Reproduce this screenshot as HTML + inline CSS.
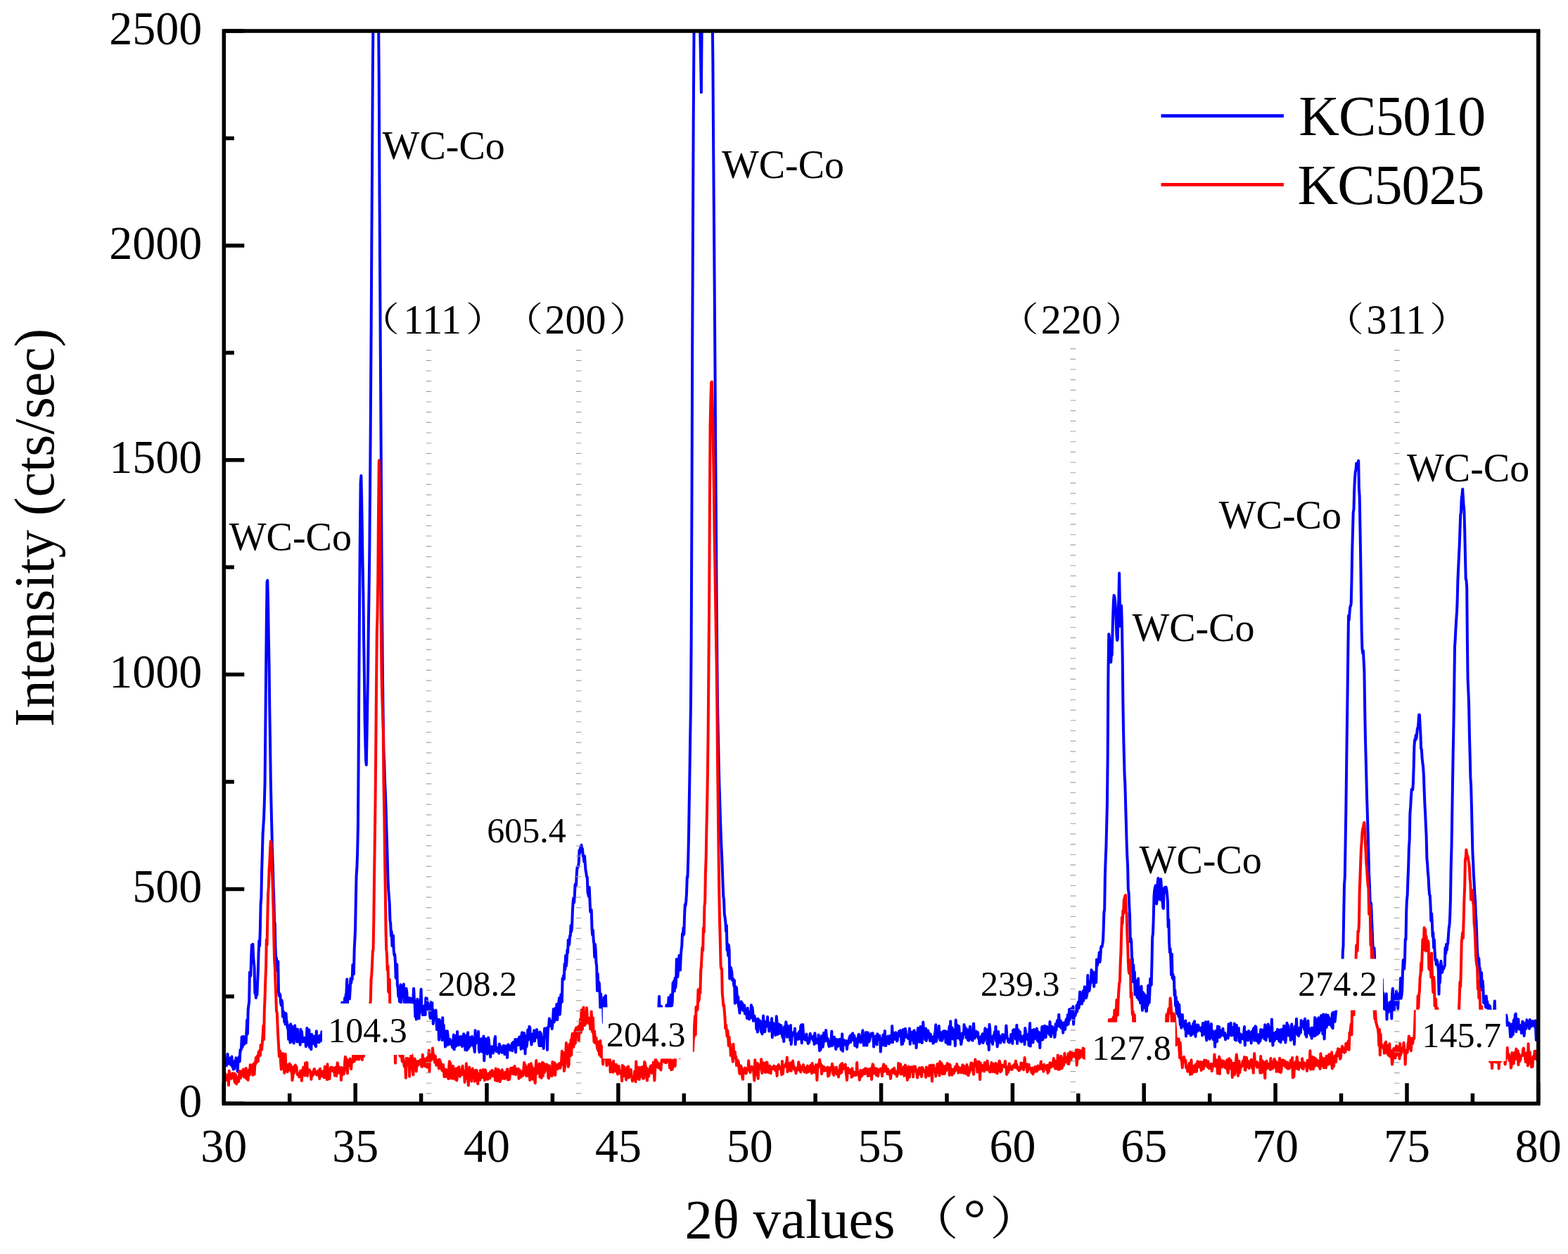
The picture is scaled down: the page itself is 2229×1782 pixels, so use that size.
<!DOCTYPE html>
<html lang="en"><head><meta charset="utf-8"><title>XRD patterns of KC5010 and KC5025</title>
<style>html,body{margin:0;padding:0;background:#fff}body{width:2229px;height:1782px;overflow:hidden}svg{display:block}text{font-family:'Liberation Serif','Noto Serif CJK SC',serif;fill:#000}.tk{font-size:66px}.tx{font-size:79px}.ty{font-size:80px}.wc{font-size:56px}.hk{font-size:58px}.pr{font-size:48.5px}.pt{font-size:65.3px}.nm{font-size:50px}.lg{font-size:80px}</style></head><body>
<svg width="2229" height="1782" viewBox="0 0 2229 1782">
<rect width="2229" height="1782" fill="#fff"/>
<defs><clipPath id="plot"><rect x="318.3" y="44.0" width="1868.5" height="1524.3"/></clipPath></defs>
<g clip-path="url(#plot)" fill="none" stroke-width="4.0" stroke-linejoin="round" stroke-linecap="round">
<polyline stroke="#0000ff" points="318.3,1507.3 319.0,1505.2 319.8,1509.2 320.5,1513.5 321.3,1510.5 322.0,1514.2 322.8,1506.8 323.5,1497.7 324.3,1510.6 325.0,1511.4 325.8,1503.5 326.5,1504.4 327.3,1506.0 328.0,1513.3 328.8,1506.8 329.5,1501.6 330.3,1515.9 331.0,1509.5 331.8,1519.6 332.5,1515.1 333.2,1518.9 334.0,1507.3 334.7,1514.5 335.5,1503.3 336.2,1504.0 337.0,1506.2 337.7,1522.7 338.5,1508.0 339.2,1503.8 340.0,1501.6 340.7,1508.4 341.5,1492.1 342.2,1493.0 343.0,1490.1 343.7,1473.5 344.5,1488.3 345.2,1481.2 346.0,1472.8 346.7,1484.4 347.4,1479.3 348.2,1475.9 348.9,1474.0 349.7,1482.2 350.4,1466.6 351.2,1449.6 351.9,1469.3 352.7,1434.7 353.4,1428.9 354.2,1423.5 354.9,1381.7 355.7,1381.5 356.4,1386.8 357.2,1358.5 357.9,1342.7 358.7,1345.7 359.4,1341.8 360.2,1360.3 360.9,1367.6 361.6,1374.7 362.4,1411.5 363.1,1410.0 363.9,1418.0 364.6,1407.3 365.4,1414.0 366.1,1396.6 366.9,1379.5 367.6,1353.9 368.4,1336.8 369.1,1344.3 369.9,1320.2 370.6,1284.5 371.4,1275.6 372.1,1238.4 372.9,1212.1 373.6,1185.6 374.4,1172.9 375.1,1162.1 375.8,1141.7 376.6,1112.4 377.3,1037.7 378.1,956.0 378.8,884.7 379.6,826.9 380.3,824.7 381.1,857.0 381.8,903.7 382.6,945.9 383.3,1007.5 384.1,1057.6 384.8,1107.4 385.6,1146.7 386.3,1175.2 387.1,1210.0 387.8,1228.7 388.6,1258.4 389.3,1275.6 390.1,1309.2 390.8,1313.4 391.5,1347.1 392.3,1365.1 393.0,1361.0 393.8,1378.8 394.5,1378.7 395.3,1366.2 396.0,1409.3 396.8,1415.0 397.5,1412.3 398.3,1413.8 399.0,1424.9 399.8,1428.5 400.5,1421.6 401.3,1426.2 402.0,1444.8 402.8,1437.4 403.5,1438.9 404.3,1452.5 405.0,1441.9 405.7,1455.6 406.5,1440.0 407.2,1449.8 408.0,1452.8 408.7,1461.0 409.5,1457.9 410.2,1477.0 411.0,1470.0 411.7,1457.3 412.5,1481.6 413.2,1455.2 414.0,1480.1 414.7,1458.3 415.5,1473.8 416.2,1460.0 417.0,1466.8 417.7,1482.5 418.5,1458.3 419.2,1457.3 419.9,1471.3 420.7,1473.6 421.4,1473.0 422.2,1480.6 422.9,1462.6 423.7,1477.3 424.4,1473.2 425.2,1480.0 425.9,1478.8 426.7,1484.7 427.4,1462.7 428.2,1475.3 428.9,1465.7 429.7,1474.2 430.4,1480.5 431.2,1477.4 431.9,1479.6 432.7,1474.8 433.4,1478.3 434.1,1477.7 434.9,1487.2 435.6,1482.3 436.4,1461.1 437.1,1481.3 437.9,1484.7 438.6,1472.8 439.4,1463.6 440.1,1488.4 440.9,1477.7 441.6,1481.5 442.4,1491.3 443.1,1469.8 443.9,1476.5 444.6,1475.7 445.4,1482.9 446.1,1472.5 446.9,1481.2 447.6,1477.8 448.3,1486.1 449.1,1487.1 449.8,1465.2 450.6,1481.1 451.3,1474.3 452.1,1477.1 452.8,1480.6 453.6,1481.2 454.3,1471.4 455.1,1479.4 455.8,1478.1 456.6,1476.4 457.3,1466.3 458.1,1470.3 458.8,1472.6 459.6,1480.4 460.3,1487.1 461.1,1466.4 461.8,1465.7 462.5,1474.8 463.3,1468.2 464.0,1465.4 464.8,1464.3 465.5,1462.8 466.3,1474.3 467.0,1456.0 467.8,1479.9 468.5,1460.2 469.3,1462.7 470.0,1458.4 470.8,1448.4 471.5,1451.1 472.3,1474.2 473.0,1478.2 473.8,1453.8 474.5,1469.4 475.3,1458.5 476.0,1448.8 476.7,1470.7 477.5,1473.5 478.2,1448.7 479.0,1448.8 479.7,1449.6 480.5,1444.8 481.2,1451.7 482.0,1456.3 482.7,1440.5 483.5,1446.7 484.2,1451.7 485.0,1427.3 485.7,1431.2 486.5,1424.4 487.2,1437.4 488.0,1432.2 488.7,1434.2 489.5,1431.5 490.2,1418.1 490.9,1427.3 491.7,1413.3 492.4,1411.8 493.2,1391.6 493.9,1427.4 494.7,1400.5 495.4,1409.2 496.2,1406.2 496.9,1419.6 497.7,1406.3 498.4,1390.6 499.2,1396.8 499.9,1391.7 500.7,1391.7 501.4,1370.9 502.2,1376.5 502.9,1384.2 503.7,1348.3 504.4,1335.3 505.1,1319.5 505.9,1276.0 506.6,1244.8 507.4,1232.3 508.1,1213.0 508.9,1175.9 509.6,1086.3 510.4,955.7 511.1,851.3 511.9,753.8 512.6,685.7 513.4,676.1 514.1,708.7 514.9,754.1 515.6,801.9 516.4,843.7 517.1,907.7 517.9,956.2 518.6,1022.2 519.4,1057.4 520.1,1080.4 520.8,1087.1 521.6,1043.7 522.3,1000.0 523.1,955.8 523.8,893.4 524.6,837.0 525.3,784.4 526.1,688.8 526.8,598.7 527.6,477.4 528.3,354.8 529.1,229.3 529.8,107.1 530.6,14.0 531.3,14.0 532.1,14.0 532.8,14.0 533.6,14.0 534.3,14.0 535.0,14.0 535.8,14.0 536.5,14.0 537.3,14.0 538.0,14.0 538.8,116.7 539.5,275.0 540.3,413.9 541.0,531.0 541.8,658.3 542.5,785.8 543.3,894.6 544.0,966.7 544.8,1025.8 545.5,1068.4 546.3,1084.1 547.0,1109.0 547.8,1126.6 548.5,1145.0 549.2,1171.4 550.0,1195.2 550.7,1220.0 551.5,1249.9 552.2,1263.4 553.0,1274.9 553.7,1283.1 554.5,1308.4 555.2,1311.7 556.0,1330.0 556.7,1323.7 557.5,1344.2 558.2,1335.5 559.0,1329.6 559.7,1350.4 560.5,1357.5 561.2,1356.0 562.0,1368.1 562.7,1389.7 563.4,1382.2 564.2,1370.4 564.9,1400.1 565.7,1403.6 566.4,1416.2 567.2,1404.0 567.9,1423.2 568.7,1423.6 569.4,1399.2 570.2,1424.8 570.9,1404.4 571.7,1400.8 572.4,1415.8 573.2,1413.3 573.9,1398.6 574.7,1422.4 575.4,1427.0 576.2,1435.4 576.9,1420.4 577.6,1404.8 578.4,1410.6 579.1,1431.4 579.9,1430.6 580.6,1426.8 581.4,1418.3 582.1,1423.8 582.9,1419.4 583.6,1418.7 584.4,1425.5 585.1,1423.1 585.9,1420.9 586.6,1424.5 587.4,1418.8 588.1,1404.7 588.9,1419.2 589.6,1425.6 590.4,1444.8 591.1,1423.2 591.8,1448.6 592.6,1443.4 593.3,1419.7 594.1,1421.6 594.8,1430.9 595.6,1447.5 596.3,1433.4 597.1,1436.7 597.8,1422.9 598.6,1405.8 599.3,1427.4 600.1,1438.0 600.8,1442.2 601.6,1430.4 602.3,1431.7 603.1,1442.1 603.8,1428.7 604.6,1442.1 605.3,1418.3 606.0,1418.8 606.8,1418.7 607.5,1435.2 608.3,1424.9 609.0,1431.8 609.8,1434.6 610.5,1434.3 611.3,1444.9 612.0,1447.0 612.8,1424.3 613.5,1435.6 614.3,1432.4 615.0,1425.5 615.8,1454.9 616.5,1446.4 617.3,1437.9 618.0,1437.3 618.8,1447.2 619.5,1435.6 620.2,1446.5 621.0,1463.0 621.7,1462.8 622.5,1448.7 623.2,1454.0 624.0,1477.7 624.7,1448.9 625.5,1457.3 626.2,1451.9 627.0,1469.0 627.7,1469.4 628.5,1478.0 629.2,1446.3 630.0,1471.6 630.7,1456.8 631.5,1477.4 632.2,1470.9 633.0,1487.6 633.7,1476.7 634.5,1465.2 635.2,1485.1 635.9,1465.3 636.7,1472.1 637.4,1484.4 638.2,1480.1 638.9,1480.1 639.7,1476.9 640.4,1481.3 641.2,1484.1 641.9,1479.9 642.7,1486.3 643.4,1488.8 644.2,1478.4 644.9,1470.6 645.7,1491.3 646.4,1478.4 647.2,1484.1 647.9,1486.9 648.7,1471.4 649.4,1483.1 650.1,1465.9 650.9,1485.3 651.6,1475.3 652.4,1480.4 653.1,1484.8 653.9,1473.3 654.6,1479.5 655.4,1472.9 656.1,1478.4 656.9,1487.1 657.6,1478.6 658.4,1477.1 659.1,1469.2 659.9,1485.1 660.6,1477.5 661.4,1491.9 662.1,1471.4 662.9,1486.2 663.6,1492.4 664.3,1477.4 665.1,1467.3 665.8,1490.0 666.6,1486.3 667.3,1483.4 668.1,1486.9 668.8,1474.1 669.6,1484.5 670.3,1484.0 671.1,1473.1 671.8,1484.8 672.6,1475.0 673.3,1487.2 674.1,1489.5 674.8,1495.1 675.6,1464.2 676.3,1482.9 677.1,1478.5 677.8,1481.1 678.5,1479.9 679.3,1481.1 680.0,1465.8 680.8,1490.7 681.5,1495.2 682.3,1490.8 683.0,1493.7 683.8,1476.6 684.5,1476.2 685.3,1491.2 686.0,1495.0 686.8,1486.6 687.5,1472.4 688.3,1507.3 689.0,1480.0 689.8,1493.4 690.5,1476.2 691.3,1493.8 692.0,1487.5 692.7,1497.7 693.5,1493.6 694.2,1474.5 695.0,1479.3 695.7,1489.5 696.5,1493.5 697.2,1502.0 698.0,1490.0 698.7,1487.2 699.5,1487.8 700.2,1488.0 701.0,1496.5 701.7,1488.1 702.5,1488.0 703.2,1477.4 704.0,1472.9 704.7,1489.1 705.5,1494.3 706.2,1488.7 706.9,1493.2 707.7,1494.3 708.4,1488.9 709.2,1496.8 709.9,1483.6 710.7,1489.3 711.4,1486.4 712.2,1489.8 712.9,1494.1 713.7,1495.8 714.4,1489.9 715.2,1492.3 715.9,1485.8 716.7,1487.5 717.4,1498.3 718.2,1486.5 718.9,1497.7 719.7,1491.6 720.4,1488.7 721.1,1502.9 721.9,1485.0 722.6,1484.3 723.4,1486.5 724.1,1488.4 724.9,1487.7 725.6,1492.4 726.4,1486.3 727.1,1488.3 727.9,1482.7 728.6,1493.2 729.4,1481.0 730.1,1481.5 730.9,1483.6 731.6,1485.7 732.4,1477.1 733.1,1495.4 733.9,1477.2 734.6,1478.7 735.3,1478.0 736.1,1476.8 736.8,1485.2 737.6,1481.5 738.3,1473.5 739.1,1474.9 739.8,1476.4 740.6,1490.8 741.3,1472.9 742.1,1467.2 742.8,1468.2 743.6,1474.5 744.3,1489.7 745.1,1467.9 745.8,1477.0 746.6,1497.4 747.3,1472.0 748.1,1488.0 748.8,1486.1 749.5,1480.2 750.3,1463.5 751.0,1477.6 751.8,1471.9 752.5,1458.8 753.3,1460.0 754.0,1474.7 754.8,1475.8 755.5,1484.6 756.3,1479.5 757.0,1469.6 757.8,1469.8 758.5,1472.1 759.3,1464.3 760.0,1479.6 760.8,1473.3 761.5,1466.2 762.3,1467.4 763.0,1463.0 763.8,1468.8 764.5,1474.8 765.2,1468.8 766.0,1480.7 766.7,1486.1 767.5,1466.4 768.2,1471.8 769.0,1468.4 769.7,1486.0 770.5,1473.9 771.2,1475.8 772.0,1477.9 772.7,1490.0 773.5,1472.7 774.2,1461.4 775.0,1465.7 775.7,1474.1 776.5,1468.4 777.2,1460.8 778.0,1491.9 778.7,1467.2 779.4,1460.2 780.2,1457.9 780.9,1447.3 781.7,1451.3 782.4,1457.7 783.2,1456.5 783.9,1450.7 784.7,1461.9 785.4,1455.8 786.2,1445.4 786.9,1433.7 787.7,1452.6 788.4,1449.9 789.2,1445.7 789.9,1432.4 790.7,1444.1 791.4,1426.9 792.2,1449.3 792.9,1439.0 793.6,1436.6 794.4,1423.7 795.1,1417.9 795.9,1441.7 796.6,1431.4 797.4,1413.2 798.1,1419.3 798.9,1423.7 799.6,1390.4 800.4,1391.1 801.1,1386.1 801.9,1391.5 802.6,1369.7 803.4,1377.6 804.1,1357.9 804.9,1372.7 805.6,1366.2 806.4,1350.2 807.1,1353.7 807.8,1335.7 808.6,1335.4 809.3,1342.4 810.1,1329.7 810.8,1329.9 811.6,1314.9 812.3,1323.8 813.1,1316.8 813.8,1296.8 814.6,1281.7 815.3,1276.2 816.1,1282.7 816.8,1273.4 817.6,1256.8 818.3,1259.9 819.1,1256.7 819.8,1241.7 820.6,1232.0 821.3,1232.4 822.0,1231.4 822.8,1224.9 823.5,1208.3 824.3,1211.9 825.0,1205.6 825.8,1202.5 826.5,1200.9 827.3,1207.9 828.0,1205.8 828.8,1216.6 829.5,1217.3 830.3,1224.6 831.0,1216.5 831.8,1227.3 832.5,1236.5 833.3,1240.2 834.0,1245.8 834.8,1246.6 835.5,1267.5 836.2,1270.9 837.0,1273.9 837.7,1260.8 838.5,1279.6 839.2,1295.4 840.0,1296.6 840.7,1292.9 841.5,1319.6 842.2,1328.6 843.0,1322.1 843.7,1336.1 844.5,1341.6 845.2,1359.9 846.0,1342.0 846.7,1350.2 847.5,1368.1 848.2,1372.6 849.0,1407.9 849.7,1383.9 850.4,1397.8 851.2,1395.6 851.9,1397.4 852.7,1412.9 853.4,1431.6 854.2,1412.5 854.9,1427.6 855.7,1425.7 856.4,1431.0 857.2,1430.3 857.9,1453.1 858.7,1417.6 859.4,1429.5 860.2,1422.2 860.9,1414.8 861.7,1436.7 862.4,1456.9 863.2,1449.0 863.9,1453.6 864.6,1447.8 865.4,1443.3 866.1,1465.3 866.9,1443.2 867.6,1462.7 868.4,1445.9 869.1,1450.9 869.9,1453.9 870.6,1452.4 871.4,1457.7 872.1,1459.1 872.9,1470.1 873.6,1454.9 874.4,1437.7 875.1,1437.2 875.9,1444.2 876.6,1450.8 877.4,1464.5 878.1,1445.2 878.8,1459.9 879.6,1460.6 880.3,1463.3 881.1,1460.2 881.8,1465.7 882.6,1462.9 883.3,1472.6 884.1,1466.4 884.8,1442.4 885.6,1464.3 886.3,1466.2 887.1,1459.3 887.8,1457.9 888.6,1474.7 889.3,1466.5 890.1,1456.3 890.8,1462.2 891.6,1463.5 892.3,1450.4 893.1,1470.7 893.8,1463.7 894.5,1469.1 895.3,1450.6 896.0,1482.1 896.8,1470.2 897.5,1468.8 898.3,1457.7 899.0,1458.1 899.8,1450.6 900.5,1477.8 901.3,1456.2 902.0,1465.6 902.8,1468.9 903.5,1457.6 904.3,1470.8 905.0,1481.3 905.8,1465.3 906.5,1475.6 907.3,1467.5 908.0,1457.8 908.7,1458.1 909.5,1446.0 910.2,1462.4 911.0,1474.6 911.7,1467.1 912.5,1468.4 913.2,1470.9 914.0,1455.2 914.7,1465.0 915.5,1477.2 916.2,1451.7 917.0,1459.0 917.7,1454.2 918.5,1456.1 919.2,1450.8 920.0,1455.9 920.7,1444.2 921.5,1451.4 922.2,1451.2 922.9,1450.5 923.7,1467.7 924.4,1455.0 925.2,1455.3 925.9,1450.4 926.7,1464.7 927.4,1435.6 928.2,1449.6 928.9,1461.6 929.7,1465.7 930.4,1451.3 931.2,1448.7 931.9,1454.0 932.7,1445.4 933.4,1451.6 934.2,1439.2 934.9,1450.8 935.7,1443.2 936.4,1432.4 937.1,1415.9 937.9,1450.1 938.6,1444.0 939.4,1446.9 940.1,1430.1 940.9,1448.4 941.6,1441.0 942.4,1435.8 943.1,1444.4 943.9,1443.4 944.6,1437.9 945.4,1453.3 946.1,1445.9 946.9,1434.7 947.6,1428.2 948.4,1430.6 949.1,1445.6 949.9,1431.3 950.6,1417.4 951.3,1418.7 952.1,1423.8 952.8,1430.8 953.6,1413.8 954.3,1424.7 955.1,1429.0 955.8,1423.0 956.6,1396.8 957.3,1407.0 958.1,1394.0 958.8,1408.5 959.6,1390.0 960.3,1403.5 961.1,1395.4 961.8,1363.0 962.6,1378.2 963.3,1388.3 964.1,1379.8 964.8,1371.2 965.5,1357.7 966.3,1370.8 967.0,1378.6 967.8,1358.8 968.5,1350.6 969.3,1344.0 970.0,1326.8 970.8,1329.7 971.5,1318.5 972.3,1327.6 973.0,1303.2 973.8,1285.3 974.5,1286.9 975.3,1280.6 976.0,1269.7 976.8,1246.0 977.5,1246.3 978.3,1220.2 979.0,1189.6 979.7,1144.1 980.5,1096.9 981.2,1048.3 982.0,1001.3 982.7,905.6 983.5,713.6 984.2,498.7 985.0,322.0 985.7,173.3 986.5,49.3 987.2,14.0 988.0,14.0 988.7,14.0 989.5,14.0 990.2,14.0 991.0,14.0 991.7,14.0 992.5,14.0 993.2,14.0 993.9,14.0 994.7,14.0 995.4,53.2 996.2,89.9 996.9,131.3 997.7,38.2 998.4,14.0 999.2,14.0 999.9,14.0 1000.7,14.0 1001.4,14.0 1002.2,14.0 1002.9,14.0 1003.7,14.0 1004.4,14.0 1005.2,14.0 1005.9,14.0 1006.7,14.0 1007.4,14.0 1008.2,14.0 1008.9,14.0 1009.6,14.0 1010.4,14.0 1011.1,14.0 1011.9,14.0 1012.6,14.0 1013.4,87.2 1014.1,198.4 1014.9,304.1 1015.6,395.4 1016.4,507.8 1017.1,622.3 1017.9,737.3 1018.6,846.3 1019.4,936.5 1020.1,1003.7 1020.9,1043.6 1021.6,1076.6 1022.4,1113.0 1023.1,1132.9 1023.8,1157.6 1024.6,1180.9 1025.3,1199.9 1026.1,1215.4 1026.8,1234.2 1027.6,1256.5 1028.3,1273.6 1029.1,1278.5 1029.8,1298.8 1030.6,1303.8 1031.3,1310.0 1032.1,1323.3 1032.8,1315.0 1033.6,1350.4 1034.3,1341.2 1035.1,1358.0 1035.8,1342.9 1036.6,1349.9 1037.3,1390.8 1038.0,1386.2 1038.8,1374.8 1039.5,1377.7 1040.3,1381.8 1041.0,1392.8 1041.8,1390.7 1042.5,1391.6 1043.3,1401.1 1044.0,1393.3 1044.8,1425.8 1045.5,1401.7 1046.3,1419.1 1047.0,1403.6 1047.8,1416.7 1048.5,1424.9 1049.3,1416.4 1050.0,1429.9 1050.8,1432.2 1051.5,1439.8 1052.2,1428.8 1053.0,1426.2 1053.7,1423.4 1054.5,1434.1 1055.2,1425.4 1056.0,1434.6 1056.7,1436.3 1057.5,1431.7 1058.2,1428.6 1059.0,1440.5 1059.7,1440.3 1060.5,1440.2 1061.2,1438.9 1062.0,1447.1 1062.7,1432.5 1063.5,1444.2 1064.2,1437.9 1065.0,1448.4 1065.7,1439.7 1066.4,1439.9 1067.2,1446.6 1067.9,1428.3 1068.7,1441.4 1069.4,1431.2 1070.2,1437.9 1070.9,1450.8 1071.7,1449.2 1072.4,1443.5 1073.2,1446.9 1073.9,1447.5 1074.7,1450.6 1075.4,1462.6 1076.2,1451.2 1076.9,1466.6 1077.7,1447.8 1078.4,1456.5 1079.2,1456.9 1079.9,1453.7 1080.6,1450.6 1081.4,1463.7 1082.1,1466.4 1082.9,1461.8 1083.6,1469.4 1084.4,1461.9 1085.1,1443.6 1085.9,1463.3 1086.6,1451.2 1087.4,1466.2 1088.1,1454.4 1088.9,1459.2 1089.6,1457.6 1090.4,1453.3 1091.1,1445.1 1091.9,1456.6 1092.6,1457.4 1093.4,1465.5 1094.1,1454.6 1094.8,1460.8 1095.6,1453.3 1096.3,1459.8 1097.1,1447.3 1097.8,1474.2 1098.6,1462.3 1099.3,1454.1 1100.1,1463.1 1100.8,1466.5 1101.6,1462.9 1102.3,1471.1 1103.1,1460.6 1103.8,1444.3 1104.6,1453.7 1105.3,1469.9 1106.1,1468.4 1106.8,1465.3 1107.6,1455.5 1108.3,1468.6 1109.0,1467.9 1109.8,1457.0 1110.5,1457.3 1111.3,1466.2 1112.0,1471.6 1112.8,1474.9 1113.5,1469.1 1114.3,1480.0 1115.0,1459.3 1115.8,1469.2 1116.5,1461.6 1117.3,1452.2 1118.0,1457.2 1118.8,1473.7 1119.5,1459.8 1120.3,1458.1 1121.0,1471.5 1121.8,1473.2 1122.5,1467.6 1123.2,1478.1 1124.0,1457.1 1124.7,1484.1 1125.5,1475.4 1126.2,1469.9 1127.0,1469.8 1127.7,1467.4 1128.5,1466.9 1129.2,1470.5 1130.0,1461.5 1130.7,1484.1 1131.5,1469.8 1132.2,1474.9 1133.0,1469.4 1133.7,1469.0 1134.5,1477.0 1135.2,1475.4 1136.0,1465.9 1136.7,1469.2 1137.5,1476.4 1138.2,1458.3 1138.9,1456.7 1139.7,1482.3 1140.4,1470.7 1141.2,1456.1 1141.9,1467.9 1142.7,1471.9 1143.4,1475.0 1144.2,1477.4 1144.9,1475.4 1145.7,1477.9 1146.4,1469.5 1147.2,1477.3 1147.9,1477.7 1148.7,1483.0 1149.4,1475.5 1150.2,1481.2 1150.9,1476.7 1151.7,1468.7 1152.4,1473.4 1153.1,1472.6 1153.9,1473.7 1154.6,1475.8 1155.4,1477.2 1156.1,1478.6 1156.9,1471.7 1157.6,1484.0 1158.4,1468.2 1159.1,1476.9 1159.9,1482.2 1160.6,1480.7 1161.4,1482.0 1162.1,1476.7 1162.9,1482.6 1163.6,1470.6 1164.4,1483.3 1165.1,1493.2 1165.9,1483.2 1166.6,1491.7 1167.3,1479.0 1168.1,1472.0 1168.8,1474.8 1169.6,1487.8 1170.3,1484.2 1171.1,1467.8 1171.8,1477.4 1172.6,1479.6 1173.3,1472.9 1174.1,1463.9 1174.8,1471.5 1175.6,1479.1 1176.3,1477.8 1177.1,1476.1 1177.8,1484.1 1178.6,1487.1 1179.3,1480.0 1180.1,1486.5 1180.8,1480.8 1181.5,1479.8 1182.3,1465.4 1183.0,1486.0 1183.8,1481.3 1184.5,1481.6 1185.3,1477.7 1186.0,1473.7 1186.8,1483.6 1187.5,1485.7 1188.3,1491.0 1189.0,1486.3 1189.8,1476.9 1190.5,1480.0 1191.3,1486.8 1192.0,1482.6 1192.8,1479.9 1193.5,1476.8 1194.3,1483.8 1195.0,1481.5 1195.7,1491.6 1196.5,1487.2 1197.2,1469.2 1198.0,1493.7 1198.7,1481.7 1199.5,1477.9 1200.2,1481.7 1201.0,1484.4 1201.7,1479.5 1202.5,1479.0 1203.2,1479.4 1204.0,1490.9 1204.7,1479.6 1205.5,1484.1 1206.2,1482.0 1207.0,1476.8 1207.7,1474.0 1208.5,1472.2 1209.2,1481.2 1209.9,1471.8 1210.7,1470.0 1211.4,1470.2 1212.2,1468.4 1212.9,1478.3 1213.7,1478.4 1214.4,1471.8 1215.2,1486.0 1215.9,1475.6 1216.7,1480.3 1217.4,1479.2 1218.2,1488.1 1218.9,1482.4 1219.7,1476.6 1220.4,1470.5 1221.2,1469.8 1221.9,1476.8 1222.7,1477.4 1223.4,1481.6 1224.1,1473.3 1224.9,1477.6 1225.6,1471.9 1226.4,1464.3 1227.1,1476.0 1227.9,1485.6 1228.6,1481.4 1229.4,1485.3 1230.1,1483.6 1230.9,1467.0 1231.6,1474.1 1232.4,1485.7 1233.1,1471.3 1233.9,1467.4 1234.6,1478.2 1235.4,1480.4 1236.1,1478.3 1236.9,1474.3 1237.6,1472.1 1238.3,1468.8 1239.1,1468.8 1239.8,1469.2 1240.6,1468.2 1241.3,1473.0 1242.1,1487.6 1242.8,1478.6 1243.6,1475.9 1244.3,1480.6 1245.1,1472.3 1245.8,1480.8 1246.6,1484.5 1247.3,1469.2 1248.1,1474.3 1248.8,1477.2 1249.6,1472.6 1250.3,1471.7 1251.1,1476.4 1251.8,1494.6 1252.5,1483.0 1253.3,1481.5 1254.0,1484.9 1254.8,1477.1 1255.5,1470.6 1256.3,1481.5 1257.0,1485.6 1257.8,1464.9 1258.5,1481.0 1259.3,1486.0 1260.0,1476.4 1260.8,1475.0 1261.5,1482.3 1262.3,1472.4 1263.0,1480.7 1263.8,1483.4 1264.5,1476.1 1265.3,1472.1 1266.0,1481.2 1266.8,1474.7 1267.5,1477.4 1268.2,1458.1 1269.0,1481.2 1269.7,1467.3 1270.5,1476.6 1271.2,1476.9 1272.0,1471.2 1272.7,1469.9 1273.5,1467.3 1274.2,1473.4 1275.0,1479.4 1275.7,1478.8 1276.5,1471.7 1277.2,1471.1 1278.0,1465.5 1278.7,1471.9 1279.5,1467.5 1280.2,1464.3 1281.0,1473.2 1281.7,1484.0 1282.4,1481.9 1283.2,1483.5 1283.9,1463.1 1284.7,1479.3 1285.4,1465.2 1286.2,1469.4 1286.9,1461.7 1287.7,1466.4 1288.4,1473.7 1289.2,1474.2 1289.9,1472.2 1290.7,1471.5 1291.4,1476.1 1292.2,1472.7 1292.9,1461.6 1293.7,1483.8 1294.4,1470.5 1295.2,1478.3 1295.9,1470.8 1296.6,1466.4 1297.4,1472.4 1298.1,1466.7 1298.9,1482.6 1299.6,1464.3 1300.4,1475.8 1301.1,1467.5 1301.9,1470.4 1302.6,1489.1 1303.4,1476.6 1304.1,1470.0 1304.9,1460.9 1305.6,1469.4 1306.4,1469.6 1307.1,1480.8 1307.9,1461.5 1308.6,1458.9 1309.4,1470.9 1310.1,1472.6 1310.8,1482.0 1311.6,1465.0 1312.3,1452.6 1313.1,1466.0 1313.8,1462.2 1314.6,1467.1 1315.3,1477.4 1316.1,1461.6 1316.8,1479.0 1317.6,1472.0 1318.3,1468.6 1319.1,1464.5 1319.8,1467.6 1320.6,1467.8 1321.3,1475.5 1322.1,1479.1 1322.8,1469.8 1323.6,1475.0 1324.3,1479.1 1325.0,1478.7 1325.8,1473.4 1326.5,1482.7 1327.3,1479.2 1328.0,1481.1 1328.8,1468.7 1329.5,1467.1 1330.3,1456.2 1331.0,1480.0 1331.8,1474.4 1332.5,1463.5 1333.3,1471.2 1334.0,1471.9 1334.8,1457.9 1335.5,1471.9 1336.3,1477.4 1337.0,1478.5 1337.8,1467.2 1338.5,1467.4 1339.2,1478.8 1340.0,1476.1 1340.7,1465.7 1341.5,1465.4 1342.2,1473.7 1343.0,1465.0 1343.7,1465.3 1344.5,1481.4 1345.2,1471.3 1346.0,1466.3 1346.7,1473.1 1347.5,1483.8 1348.2,1471.1 1349.0,1463.9 1349.7,1458.3 1350.5,1484.1 1351.2,1451.2 1352.0,1476.7 1352.7,1462.5 1353.4,1460.5 1354.2,1462.3 1354.9,1467.9 1355.7,1476.9 1356.4,1464.7 1357.2,1473.8 1357.9,1486.2 1358.7,1449.6 1359.4,1464.1 1360.2,1456.5 1360.9,1475.2 1361.7,1458.9 1362.4,1458.0 1363.2,1458.3 1363.9,1469.1 1364.7,1477.2 1365.4,1470.2 1366.2,1484.1 1366.9,1480.7 1367.6,1468.4 1368.4,1475.8 1369.1,1470.2 1369.9,1469.9 1370.6,1456.0 1371.4,1460.4 1372.1,1469.6 1372.9,1461.1 1373.6,1474.7 1374.4,1471.8 1375.1,1463.3 1375.9,1478.1 1376.6,1471.6 1377.4,1478.7 1378.1,1469.0 1378.9,1458.8 1379.6,1475.1 1380.4,1468.5 1381.1,1476.2 1381.9,1478.0 1382.6,1478.7 1383.3,1460.5 1384.1,1454.4 1384.8,1467.3 1385.6,1475.5 1386.3,1466.0 1387.1,1473.1 1387.8,1465.5 1388.6,1469.1 1389.3,1469.3 1390.1,1467.2 1390.8,1475.3 1391.6,1474.2 1392.3,1483.2 1393.1,1474.7 1393.8,1481.4 1394.6,1472.9 1395.3,1478.5 1396.1,1471.4 1396.8,1469.2 1397.5,1481.9 1398.3,1477.9 1399.0,1478.9 1399.8,1467.6 1400.5,1461.3 1401.3,1467.1 1402.0,1475.3 1402.8,1463.2 1403.5,1483.3 1404.3,1463.2 1405.0,1477.7 1405.8,1492.0 1406.5,1455.8 1407.3,1463.1 1408.0,1480.6 1408.8,1472.7 1409.5,1475.3 1410.3,1473.3 1411.0,1483.9 1411.7,1478.7 1412.5,1471.1 1413.2,1472.8 1414.0,1466.3 1414.7,1473.9 1415.5,1458.8 1416.2,1479.3 1417.0,1472.9 1417.7,1487.4 1418.5,1483.0 1419.2,1465.9 1420.0,1481.1 1420.7,1471.3 1421.5,1475.3 1422.2,1481.8 1423.0,1477.2 1423.7,1478.4 1424.5,1478.2 1425.2,1470.0 1425.9,1470.7 1426.7,1478.8 1427.4,1481.0 1428.2,1473.1 1428.9,1475.7 1429.7,1468.2 1430.4,1457.4 1431.2,1469.4 1431.9,1475.2 1432.7,1476.1 1433.4,1480.7 1434.2,1481.0 1434.9,1481.6 1435.7,1477.6 1436.4,1477.8 1437.2,1470.0 1437.9,1477.6 1438.7,1476.2 1439.4,1483.0 1440.1,1464.0 1440.9,1471.5 1441.6,1463.0 1442.4,1469.6 1443.1,1465.0 1443.9,1476.5 1444.6,1470.1 1445.4,1456.8 1446.1,1482.9 1446.9,1467.0 1447.6,1463.5 1448.4,1471.9 1449.1,1469.6 1449.9,1466.2 1450.6,1479.1 1451.4,1471.9 1452.1,1480.5 1452.9,1479.2 1453.6,1478.8 1454.3,1475.5 1455.1,1473.6 1455.8,1471.4 1456.6,1484.2 1457.3,1461.0 1458.1,1466.6 1458.8,1469.5 1459.6,1476.8 1460.3,1475.0 1461.1,1470.6 1461.8,1471.5 1462.6,1485.7 1463.3,1469.1 1464.1,1454.1 1464.8,1486.6 1465.6,1467.0 1466.3,1471.2 1467.1,1474.4 1467.8,1464.1 1468.5,1481.5 1469.3,1472.1 1470.0,1463.0 1470.8,1474.2 1471.5,1475.6 1472.3,1471.7 1473.0,1475.4 1473.8,1461.5 1474.5,1478.2 1475.3,1465.7 1476.0,1480.2 1476.8,1466.7 1477.5,1471.8 1478.3,1488.9 1479.0,1470.7 1479.8,1477.9 1480.5,1473.3 1481.3,1459.1 1482.0,1477.5 1482.7,1476.8 1483.5,1459.0 1484.2,1468.0 1485.0,1457.7 1485.7,1466.0 1486.5,1474.3 1487.2,1468.2 1488.0,1458.7 1488.7,1460.5 1489.5,1466.9 1490.2,1466.3 1491.0,1467.1 1491.7,1470.1 1492.5,1451.9 1493.2,1465.3 1494.0,1473.2 1494.7,1468.1 1495.5,1459.0 1496.2,1459.2 1496.9,1464.4 1497.7,1467.8 1498.4,1462.3 1499.2,1474.1 1499.9,1470.9 1500.7,1455.1 1501.4,1463.9 1502.2,1457.1 1502.9,1450.3 1503.7,1453.9 1504.4,1458.0 1505.2,1441.7 1505.9,1452.0 1506.7,1459.0 1507.4,1450.3 1508.2,1452.1 1508.9,1461.0 1509.7,1453.5 1510.4,1454.7 1511.2,1467.7 1511.9,1453.5 1512.6,1453.7 1513.4,1454.3 1514.1,1462.9 1514.9,1452.3 1515.6,1449.2 1516.4,1447.5 1517.1,1456.4 1517.9,1441.9 1518.6,1455.6 1519.4,1447.1 1520.1,1434.3 1520.9,1449.3 1521.6,1447.1 1522.4,1433.6 1523.1,1444.5 1523.9,1442.9 1524.6,1437.9 1525.4,1430.2 1526.1,1455.7 1526.8,1443.5 1527.6,1444.0 1528.3,1443.6 1529.1,1440.6 1529.8,1439.3 1530.6,1428.6 1531.3,1437.4 1532.1,1427.7 1532.8,1424.0 1533.6,1432.4 1534.3,1423.8 1535.1,1409.5 1535.8,1419.5 1536.6,1426.6 1537.3,1420.3 1538.1,1426.5 1538.8,1414.8 1539.6,1408.3 1540.3,1422.0 1541.0,1415.3 1541.8,1402.2 1542.5,1415.6 1543.3,1408.3 1544.0,1418.2 1544.8,1415.4 1545.5,1411.5 1546.3,1386.1 1547.0,1408.4 1547.8,1408.4 1548.5,1407.6 1549.3,1402.8 1550.0,1394.0 1550.8,1396.9 1551.5,1378.2 1552.3,1393.8 1553.0,1380.6 1553.8,1389.8 1554.5,1384.7 1555.2,1401.9 1556.0,1386.5 1556.7,1382.8 1557.5,1381.1 1558.2,1396.0 1559.0,1363.4 1559.7,1372.1 1560.5,1369.4 1561.2,1364.8 1562.0,1362.1 1562.7,1353.6 1563.5,1367.1 1564.2,1361.3 1565.0,1346.8 1565.7,1344.8 1566.5,1345.5 1567.2,1342.1 1568.0,1336.8 1568.7,1319.6 1569.4,1296.5 1570.2,1292.4 1570.9,1245.1 1571.7,1220.4 1572.4,1204.3 1573.2,1172.5 1573.9,1142.9 1574.7,1071.7 1575.4,959.4 1576.2,901.1 1576.9,904.2 1577.7,913.7 1578.4,920.4 1579.2,941.1 1579.9,930.3 1580.7,930.9 1581.4,903.3 1582.2,874.0 1582.9,854.6 1583.6,846.0 1584.4,848.3 1585.1,853.9 1585.9,865.4 1586.6,881.1 1587.4,903.0 1588.1,909.9 1588.9,907.1 1589.6,870.7 1590.4,849.5 1591.1,814.6 1591.9,856.1 1592.6,889.7 1593.4,874.1 1594.1,860.8 1594.9,886.5 1595.6,926.6 1596.4,1000.1 1597.1,1041.4 1597.8,1070.6 1598.6,1101.0 1599.3,1113.3 1600.1,1142.4 1600.8,1167.2 1601.6,1196.7 1602.3,1216.0 1603.1,1230.9 1603.8,1263.1 1604.6,1268.7 1605.3,1287.0 1606.1,1302.6 1606.8,1338.3 1607.6,1333.6 1608.3,1338.5 1609.1,1362.4 1609.8,1362.7 1610.6,1395.2 1611.3,1371.5 1612.0,1391.1 1612.8,1381.2 1613.5,1413.4 1614.3,1393.3 1615.0,1406.3 1615.8,1399.0 1616.5,1417.4 1617.3,1416.0 1618.0,1390.4 1618.8,1420.5 1619.5,1420.4 1620.3,1417.3 1621.0,1425.2 1621.8,1405.5 1622.5,1401.6 1623.3,1425.2 1624.0,1435.8 1624.8,1410.3 1625.5,1411.9 1626.2,1415.5 1627.0,1413.2 1627.7,1432.1 1628.5,1425.9 1629.2,1436.9 1630.0,1436.9 1630.7,1414.4 1631.5,1428.8 1632.2,1400.6 1633.0,1419.7 1633.7,1424.9 1634.5,1407.8 1635.2,1390.8 1636.0,1393.7 1636.7,1399.7 1637.5,1365.8 1638.2,1332.3 1639.0,1326.3 1639.7,1306.8 1640.5,1273.6 1641.2,1265.3 1641.9,1261.4 1642.7,1258.4 1643.4,1279.9 1644.2,1284.4 1644.9,1277.0 1645.7,1253.8 1646.4,1248.1 1647.2,1271.0 1647.9,1273.5 1648.7,1278.2 1649.4,1270.2 1650.2,1249.3 1650.9,1259.3 1651.7,1280.0 1652.4,1277.9 1653.2,1289.8 1653.9,1291.1 1654.7,1262.2 1655.4,1268.8 1656.1,1260.7 1656.9,1263.1 1657.6,1260.7 1658.4,1264.4 1659.1,1270.9 1659.9,1280.9 1660.6,1317.3 1661.4,1306.7 1662.1,1338.9 1662.9,1353.3 1663.6,1348.2 1664.4,1363.7 1665.1,1385.5 1665.9,1355.9 1666.6,1390.0 1667.4,1384.6 1668.1,1392.4 1668.9,1388.1 1669.6,1414.4 1670.3,1407.0 1671.1,1429.2 1671.8,1417.0 1672.6,1439.3 1673.3,1440.2 1674.1,1424.1 1674.8,1441.1 1675.6,1444.8 1676.3,1427.7 1677.1,1445.0 1677.8,1456.0 1678.6,1443.7 1679.3,1460.7 1680.1,1441.9 1680.8,1441.9 1681.6,1457.4 1682.3,1458.4 1683.1,1452.2 1683.8,1454.0 1684.5,1462.7 1685.3,1450.4 1686.0,1472.5 1686.8,1459.7 1687.5,1460.0 1688.3,1459.5 1689.0,1455.2 1689.8,1468.4 1690.5,1454.0 1691.3,1460.8 1692.0,1465.2 1692.8,1471.5 1693.5,1470.5 1694.3,1458.5 1695.0,1469.7 1695.8,1461.9 1696.5,1454.3 1697.3,1455.0 1698.0,1451.2 1698.7,1466.4 1699.5,1473.1 1700.2,1456.7 1701.0,1462.6 1701.7,1456.5 1702.5,1465.5 1703.2,1456.4 1704.0,1459.4 1704.7,1460.6 1705.5,1462.5 1706.2,1463.5 1707.0,1465.0 1707.7,1465.3 1708.5,1459.4 1709.2,1471.4 1710.0,1453.9 1710.7,1468.5 1711.5,1460.1 1712.2,1468.7 1712.9,1470.0 1713.7,1452.3 1714.4,1470.7 1715.2,1478.4 1715.9,1474.1 1716.7,1471.1 1717.4,1451.9 1718.2,1467.2 1718.9,1461.6 1719.7,1476.7 1720.4,1466.3 1721.2,1463.9 1721.9,1455.1 1722.7,1474.6 1723.4,1464.6 1724.2,1467.0 1724.9,1477.3 1725.7,1469.6 1726.4,1471.6 1727.1,1487.6 1727.9,1465.0 1728.6,1465.5 1729.4,1473.2 1730.1,1480.2 1730.9,1458.4 1731.6,1467.9 1732.4,1462.1 1733.1,1459.1 1733.9,1474.1 1734.6,1463.9 1735.4,1472.1 1736.1,1470.7 1736.9,1470.9 1737.6,1470.3 1738.4,1461.8 1739.1,1469.4 1739.9,1471.6 1740.6,1472.6 1741.3,1467.9 1742.1,1477.4 1742.8,1474.4 1743.6,1471.0 1744.3,1475.0 1745.1,1471.6 1745.8,1475.4 1746.6,1455.2 1747.3,1460.4 1748.1,1467.2 1748.8,1471.1 1749.6,1453.8 1750.3,1468.2 1751.1,1471.4 1751.8,1468.4 1752.6,1468.4 1753.3,1459.9 1754.1,1470.9 1754.8,1454.5 1755.6,1477.5 1756.3,1465.4 1757.0,1478.5 1757.8,1456.7 1758.5,1473.3 1759.3,1471.2 1760.0,1463.6 1760.8,1461.0 1761.5,1479.3 1762.3,1473.4 1763.0,1481.4 1763.8,1469.6 1764.5,1471.4 1765.3,1473.4 1766.0,1475.9 1766.8,1473.6 1767.5,1476.4 1768.3,1466.5 1769.0,1458.9 1769.8,1485.5 1770.5,1471.5 1771.2,1473.8 1772.0,1466.8 1772.7,1477.9 1773.5,1471.7 1774.2,1478.5 1775.0,1465.1 1775.7,1469.7 1776.5,1471.7 1777.2,1467.6 1778.0,1472.3 1778.7,1482.4 1779.5,1465.8 1780.2,1468.1 1781.0,1471.5 1781.7,1462.7 1782.5,1460.9 1783.2,1478.7 1784.0,1476.3 1784.7,1458.3 1785.4,1459.3 1786.2,1475.9 1786.9,1479.3 1787.7,1475.1 1788.4,1474.0 1789.2,1482.4 1789.9,1469.8 1790.7,1480.0 1791.4,1479.4 1792.2,1462.9 1792.9,1475.3 1793.7,1470.5 1794.4,1465.1 1795.2,1463.6 1795.9,1472.5 1796.7,1469.5 1797.4,1476.2 1798.2,1456.2 1798.9,1464.7 1799.6,1478.3 1800.4,1469.7 1801.1,1464.1 1801.9,1465.9 1802.6,1455.4 1803.4,1458.9 1804.1,1473.7 1804.9,1470.2 1805.6,1479.4 1806.4,1467.5 1807.1,1468.2 1807.9,1448.4 1808.6,1468.6 1809.4,1485.6 1810.1,1474.5 1810.9,1468.3 1811.6,1478.9 1812.4,1475.9 1813.1,1472.0 1813.8,1466.4 1814.6,1470.3 1815.3,1475.9 1816.1,1462.8 1816.8,1473.1 1817.6,1472.8 1818.3,1479.6 1819.1,1474.9 1819.8,1463.6 1820.6,1481.2 1821.3,1469.1 1822.1,1462.8 1822.8,1471.3 1823.6,1466.4 1824.3,1476.9 1825.1,1457.8 1825.8,1459.3 1826.6,1465.9 1827.3,1481.4 1828.0,1475.7 1828.8,1459.7 1829.5,1453.8 1830.3,1464.8 1831.0,1457.1 1831.8,1471.6 1832.5,1468.1 1833.3,1466.5 1834.0,1463.0 1834.8,1478.2 1835.5,1458.6 1836.3,1455.4 1837.0,1474.8 1837.8,1476.3 1838.5,1462.6 1839.3,1470.4 1840.0,1483.9 1840.8,1458.5 1841.5,1463.6 1842.2,1468.4 1843.0,1447.7 1843.7,1463.3 1844.5,1470.2 1845.2,1463.3 1846.0,1472.3 1846.7,1469.9 1847.5,1460.6 1848.2,1468.0 1849.0,1467.1 1849.7,1450.0 1850.5,1456.4 1851.2,1456.7 1852.0,1458.8 1852.7,1459.1 1853.5,1451.2 1854.2,1463.0 1855.0,1447.8 1855.7,1470.3 1856.4,1464.6 1857.2,1473.5 1857.9,1465.1 1858.7,1458.1 1859.4,1450.5 1860.2,1467.5 1860.9,1462.0 1861.7,1464.9 1862.4,1467.8 1863.2,1471.4 1863.9,1461.2 1864.7,1475.6 1865.4,1460.6 1866.2,1461.2 1866.9,1466.6 1867.7,1469.4 1868.4,1472.3 1869.2,1445.9 1869.9,1471.7 1870.6,1448.2 1871.4,1455.8 1872.1,1463.5 1872.9,1469.8 1873.6,1451.9 1874.4,1446.2 1875.1,1467.7 1875.9,1462.4 1876.6,1451.3 1877.4,1456.9 1878.1,1443.2 1878.9,1464.0 1879.6,1454.7 1880.4,1469.2 1881.1,1441.6 1881.9,1464.5 1882.6,1476.4 1883.4,1459.1 1884.1,1458.9 1884.9,1441.7 1885.6,1459.9 1886.3,1456.8 1887.1,1451.4 1887.8,1442.7 1888.6,1455.8 1889.3,1446.1 1890.1,1449.9 1890.8,1456.0 1891.6,1452.2 1892.3,1451.9 1893.1,1459.0 1893.8,1440.2 1894.6,1461.3 1895.3,1438.5 1896.1,1439.3 1896.8,1447.2 1897.6,1451.8 1898.3,1445.7 1899.1,1437.3 1899.8,1431.6 1900.5,1431.6 1901.3,1420.4 1902.0,1429.5 1902.8,1416.4 1903.5,1428.0 1904.3,1399.1 1905.0,1399.1 1905.8,1398.5 1906.5,1374.7 1907.3,1371.0 1908.0,1396.9 1908.8,1353.3 1909.5,1344.3 1910.3,1295.2 1911.0,1257.9 1911.8,1246.5 1912.5,1203.2 1913.3,1154.6 1914.0,1100.3 1914.7,1047.3 1915.5,990.5 1916.2,935.0 1917.0,875.0 1917.7,881.2 1918.5,870.8 1919.2,863.1 1920.0,861.0 1920.7,857.7 1921.5,823.3 1922.2,783.9 1923.0,755.2 1923.7,728.0 1924.5,723.6 1925.2,696.4 1926.0,679.7 1926.7,670.8 1927.5,667.5 1928.2,658.5 1928.9,661.7 1929.7,657.9 1930.4,658.7 1931.2,654.6 1931.9,693.9 1932.7,705.3 1933.4,746.5 1934.2,792.4 1934.9,843.2 1935.7,897.5 1936.4,921.7 1937.2,928.5 1937.9,924.6 1938.7,940.4 1939.4,953.8 1940.2,1008.4 1940.9,1047.1 1941.7,1078.2 1942.4,1105.2 1943.1,1133.7 1943.9,1158.3 1944.6,1182.9 1945.4,1209.5 1946.1,1240.5 1946.9,1256.9 1947.6,1279.4 1948.4,1285.4 1949.1,1283.3 1949.9,1302.7 1950.6,1319.9 1951.4,1341.3 1952.1,1349.6 1952.9,1362.0 1953.6,1347.2 1954.4,1369.3 1955.1,1367.3 1955.9,1380.6 1956.6,1378.8 1957.3,1370.3 1958.1,1397.2 1958.8,1398.1 1959.6,1406.8 1960.3,1393.3 1961.1,1415.4 1961.8,1419.0 1962.6,1423.9 1963.3,1426.2 1964.1,1409.9 1964.8,1391.6 1965.6,1427.6 1966.3,1410.7 1967.1,1419.2 1967.8,1433.7 1968.6,1427.8 1969.3,1429.1 1970.1,1434.9 1970.8,1412.2 1971.5,1448.6 1972.3,1428.7 1973.0,1429.7 1973.8,1438.2 1974.5,1431.4 1975.3,1424.4 1976.0,1430.3 1976.8,1427.0 1977.5,1423.4 1978.3,1447.4 1979.0,1413.7 1979.8,1404.8 1980.5,1415.5 1981.3,1413.8 1982.0,1435.3 1982.8,1421.8 1983.5,1427.3 1984.3,1424.1 1985.0,1408.3 1985.7,1424.4 1986.5,1417.1 1987.2,1433.4 1988.0,1415.6 1988.7,1412.1 1989.5,1418.6 1990.2,1417.4 1991.0,1390.1 1991.7,1418.7 1992.5,1414.3 1993.2,1407.5 1994.0,1381.0 1994.7,1364.2 1995.5,1374.8 1996.2,1376.8 1997.0,1363.5 1997.7,1334.6 1998.5,1335.1 1999.2,1296.2 1999.9,1279.0 2000.7,1271.7 2001.4,1250.2 2002.2,1231.0 2002.9,1205.1 2003.7,1193.6 2004.4,1156.6 2005.2,1146.2 2005.9,1132.9 2006.7,1121.9 2007.4,1121.4 2008.2,1122.5 2008.9,1113.1 2009.7,1089.3 2010.4,1061.0 2011.2,1050.8 2011.9,1052.3 2012.7,1044.7 2013.4,1049.7 2014.2,1042.7 2014.9,1035.1 2015.6,1035.3 2016.4,1027.5 2017.1,1015.8 2017.9,1015.8 2018.6,1030.1 2019.4,1043.0 2020.1,1063.7 2020.9,1065.2 2021.6,1077.1 2022.4,1084.6 2023.1,1089.6 2023.9,1102.5 2024.6,1123.1 2025.4,1142.5 2026.1,1155.7 2026.9,1173.8 2027.6,1187.5 2028.4,1220.1 2029.1,1227.2 2029.8,1239.5 2030.6,1247.0 2031.3,1261.1 2032.1,1271.6 2032.8,1272.8 2033.6,1287.5 2034.3,1308.5 2035.1,1298.2 2035.8,1309.5 2036.6,1330.8 2037.3,1325.3 2038.1,1346.6 2038.8,1335.2 2039.6,1353.5 2040.3,1364.0 2041.1,1363.5 2041.8,1370.9 2042.6,1364.2 2043.3,1367.1 2044.0,1370.8 2044.8,1378.9 2045.5,1412.8 2046.3,1374.4 2047.0,1396.3 2047.8,1374.6 2048.5,1365.8 2049.3,1375.1 2050.0,1382.0 2050.8,1378.5 2051.5,1375.6 2052.3,1376.7 2053.0,1373.2 2053.8,1372.5 2054.5,1347.0 2055.3,1355.1 2056.0,1341.9 2056.8,1350.0 2057.5,1342.9 2058.2,1340.5 2059.0,1329.1 2059.7,1318.9 2060.5,1314.0 2061.2,1302.1 2062.0,1276.6 2062.7,1231.9 2063.5,1203.7 2064.2,1161.4 2065.0,1110.1 2065.7,1069.0 2066.5,1027.0 2067.2,978.5 2068.0,919.4 2068.7,908.5 2069.5,892.0 2070.2,880.3 2071.0,869.4 2071.7,851.4 2072.4,824.1 2073.2,806.1 2073.9,791.0 2074.7,774.4 2075.4,753.6 2076.2,731.7 2076.9,728.2 2077.7,707.9 2078.4,703.5 2079.2,695.0 2079.9,707.7 2080.7,719.3 2081.4,725.7 2082.2,754.0 2082.9,787.6 2083.7,823.0 2084.4,824.1 2085.2,834.5 2085.9,912.7 2086.6,965.6 2087.4,983.2 2088.1,1002.6 2088.9,1044.6 2089.6,1070.7 2090.4,1104.9 2091.1,1115.7 2091.9,1145.2 2092.6,1175.3 2093.4,1210.8 2094.1,1224.1 2094.9,1243.0 2095.6,1255.2 2096.4,1270.1 2097.1,1278.5 2097.9,1301.0 2098.6,1309.2 2099.4,1332.8 2100.1,1352.7 2100.8,1359.8 2101.6,1369.7 2102.3,1362.0 2103.1,1377.8 2103.8,1375.9 2104.6,1387.1 2105.3,1402.8 2106.1,1382.3 2106.8,1407.0 2107.6,1393.7 2108.3,1400.5 2109.1,1424.9 2109.8,1421.2 2110.6,1419.8 2111.3,1425.4 2112.1,1431.4 2112.8,1415.6 2113.6,1427.1 2114.3,1423.4 2115.0,1432.8 2115.8,1427.8 2116.5,1439.1 2117.3,1433.9 2118.0,1429.7 2118.8,1435.8 2119.5,1441.5 2120.3,1448.2 2121.0,1438.1 2121.8,1437.6 2122.5,1443.8 2123.3,1449.2 2124.0,1438.6 2124.8,1422.5 2125.5,1447.5 2126.3,1442.7 2127.0,1443.1 2127.8,1469.1 2128.5,1446.7 2129.3,1454.5 2130.0,1437.4 2130.7,1452.1 2131.5,1457.2 2132.2,1453.1 2133.0,1450.5 2133.7,1457.3 2134.5,1453.6 2135.2,1465.0 2136.0,1456.1 2136.7,1448.2 2137.5,1438.7 2138.2,1449.6 2139.0,1453.5 2139.7,1446.1 2140.5,1447.6 2141.2,1442.4 2142.0,1447.2 2142.7,1457.1 2143.5,1454.0 2144.2,1454.6 2144.9,1453.6 2145.7,1454.5 2146.4,1462.6 2147.2,1473.5 2147.9,1461.7 2148.7,1472.9 2149.4,1455.5 2150.2,1456.1 2150.9,1470.0 2151.7,1450.4 2152.4,1448.9 2153.2,1455.3 2153.9,1442.3 2154.7,1440.6 2155.4,1466.1 2156.2,1447.5 2156.9,1452.5 2157.7,1452.7 2158.4,1448.4 2159.1,1462.1 2159.9,1461.0 2160.6,1462.9 2161.4,1462.4 2162.1,1456.9 2162.9,1468.1 2163.6,1464.8 2164.4,1451.4 2165.1,1456.8 2165.9,1453.1 2166.6,1472.0 2167.4,1463.0 2168.1,1461.2 2168.9,1456.4 2169.6,1461.7 2170.4,1449.3 2171.1,1457.6 2171.9,1457.2 2172.6,1457.4 2173.3,1451.9 2174.1,1461.8 2174.8,1448.9 2175.6,1454.5 2176.3,1457.3 2177.1,1458.4 2177.8,1454.7 2178.6,1451.0 2179.3,1451.8 2180.1,1456.7 2180.8,1452.9 2181.6,1459.3 2182.3,1450.4 2183.1,1461.0 2183.8,1477.9 2184.6,1450.6 2185.3,1460.8 2186.1,1471.4 2186.8,1463.8"/>
<polyline stroke="#ff0000" points="318.3,1532.1 319.0,1524.3 319.8,1525.0 320.5,1535.0 321.3,1533.6 322.0,1534.9 322.8,1528.3 323.5,1531.8 324.3,1527.0 325.0,1542.1 325.8,1521.8 326.5,1531.5 327.3,1526.7 328.0,1531.4 328.8,1532.7 329.5,1527.5 330.3,1525.2 331.0,1531.2 331.8,1530.7 332.5,1525.5 333.2,1534.7 334.0,1538.4 334.7,1526.6 335.5,1532.9 336.2,1540.4 337.0,1533.4 337.7,1531.1 338.5,1535.4 339.2,1537.1 340.0,1527.4 340.7,1521.9 341.5,1528.7 342.2,1531.7 343.0,1524.4 343.7,1522.2 344.5,1528.3 345.2,1522.8 346.0,1519.5 346.7,1527.2 347.4,1530.8 348.2,1523.2 348.9,1523.6 349.7,1517.9 350.4,1532.9 351.2,1528.7 351.9,1529.5 352.7,1535.0 353.4,1522.6 354.2,1519.7 354.9,1527.5 355.7,1513.2 356.4,1516.4 357.2,1517.2 357.9,1518.0 358.7,1513.3 359.4,1527.8 360.2,1513.0 360.9,1511.5 361.6,1526.7 362.4,1509.8 363.1,1512.3 363.9,1502.8 364.6,1510.0 365.4,1505.0 366.1,1500.3 366.9,1508.2 367.6,1494.9 368.4,1499.1 369.1,1493.0 369.9,1499.9 370.6,1485.0 371.4,1487.1 372.1,1491.5 372.9,1481.5 373.6,1471.6 374.4,1457.3 375.1,1477.3 375.8,1436.9 376.6,1417.8 377.3,1393.1 378.1,1375.6 378.8,1335.4 379.6,1342.9 380.3,1305.1 381.1,1270.0 381.8,1260.6 382.6,1234.8 383.3,1225.9 384.1,1206.6 384.8,1195.4 385.6,1198.2 386.3,1232.9 387.1,1244.2 387.8,1264.9 388.6,1293.8 389.3,1330.8 390.1,1364.9 390.8,1374.6 391.5,1396.5 392.3,1415.3 393.0,1436.6 393.8,1439.2 394.5,1455.3 395.3,1472.9 396.0,1484.3 396.8,1501.2 397.5,1501.2 398.3,1493.5 399.0,1508.3 399.8,1519.5 400.5,1500.1 401.3,1507.3 402.0,1496.9 402.8,1512.7 403.5,1517.2 404.3,1524.9 405.0,1505.8 405.7,1497.7 406.5,1522.0 407.2,1521.2 408.0,1512.9 408.7,1523.2 409.5,1519.8 410.2,1520.7 411.0,1517.4 411.7,1511.6 412.5,1519.3 413.2,1513.6 414.0,1523.0 414.7,1518.3 415.5,1535.1 416.2,1530.7 417.0,1516.1 417.7,1525.5 418.5,1518.0 419.2,1518.4 419.9,1513.5 420.7,1517.0 421.4,1515.8 422.2,1523.3 422.9,1527.2 423.7,1527.5 424.4,1526.0 425.2,1530.3 425.9,1526.5 426.7,1523.6 427.4,1521.5 428.2,1525.4 428.9,1535.8 429.7,1523.8 430.4,1521.9 431.2,1516.4 431.9,1519.7 432.7,1527.7 433.4,1528.3 434.1,1510.6 434.9,1518.8 435.6,1511.9 436.4,1510.0 437.1,1529.1 437.9,1521.4 438.6,1521.0 439.4,1520.4 440.1,1520.5 440.9,1522.8 441.6,1523.0 442.4,1533.8 443.1,1525.2 443.9,1529.0 444.6,1523.4 445.4,1527.3 446.1,1520.3 446.9,1519.0 447.6,1522.3 448.3,1522.3 449.1,1523.7 449.8,1527.2 450.6,1525.4 451.3,1527.6 452.1,1521.9 452.8,1524.3 453.6,1520.7 454.3,1532.9 455.1,1518.7 455.8,1529.3 456.6,1529.1 457.3,1525.6 458.1,1528.0 458.8,1522.4 459.6,1528.0 460.3,1531.1 461.1,1529.6 461.8,1515.7 462.5,1523.8 463.3,1531.6 464.0,1523.9 464.8,1534.0 465.5,1512.2 466.3,1533.6 467.0,1520.6 467.8,1520.0 468.5,1532.9 469.3,1521.4 470.0,1516.8 470.8,1520.1 471.5,1521.3 472.3,1516.7 473.0,1521.8 473.8,1520.5 474.5,1523.4 475.3,1518.3 476.0,1528.5 476.7,1516.9 477.5,1525.3 478.2,1529.0 479.0,1519.3 479.7,1510.3 480.5,1515.0 481.2,1524.6 482.0,1516.2 482.7,1523.5 483.5,1520.9 484.2,1518.9 485.0,1534.8 485.7,1517.1 486.5,1524.8 487.2,1521.9 488.0,1526.7 488.7,1526.4 489.5,1521.7 490.2,1508.5 490.9,1501.7 491.7,1513.2 492.4,1504.5 493.2,1513.8 493.9,1525.3 494.7,1509.7 495.4,1507.0 496.2,1513.0 496.9,1507.1 497.7,1504.6 498.4,1514.9 499.2,1519.1 499.9,1509.2 500.7,1508.7 501.4,1509.3 502.2,1498.6 502.9,1492.4 503.7,1508.4 504.4,1499.2 505.1,1496.8 505.9,1498.0 506.6,1494.9 507.4,1505.6 508.1,1496.2 508.9,1485.5 509.6,1494.6 510.4,1505.4 511.1,1495.0 511.9,1489.1 512.6,1495.6 513.4,1502.3 514.1,1484.2 514.9,1506.1 515.6,1490.2 516.4,1492.9 517.1,1501.0 517.9,1477.9 518.6,1482.8 519.4,1493.4 520.1,1474.3 520.8,1480.4 521.6,1490.7 522.3,1475.3 523.1,1460.9 523.8,1450.8 524.6,1448.2 525.3,1441.0 526.1,1426.8 526.8,1422.9 527.6,1391.5 528.3,1385.6 529.1,1369.7 529.8,1352.9 530.6,1348.3 531.3,1308.3 532.1,1242.6 532.8,1194.9 533.6,1134.4 534.3,1060.4 535.0,976.4 535.8,898.5 536.5,874.8 537.3,819.9 538.0,728.3 538.8,654.3 539.5,690.0 540.3,756.8 541.0,822.4 541.8,894.0 542.5,959.0 543.3,991.2 544.0,1012.9 544.8,1038.9 545.5,1116.0 546.3,1157.9 547.0,1216.3 547.8,1267.3 548.5,1321.7 549.2,1348.1 550.0,1356.8 550.7,1378.8 551.5,1372.8 552.2,1409.1 553.0,1410.4 553.7,1391.4 554.5,1441.3 555.2,1451.3 556.0,1450.0 556.7,1457.8 557.5,1455.9 558.2,1469.0 559.0,1482.1 559.7,1476.5 560.5,1457.5 561.2,1472.6 562.0,1510.7 562.7,1489.6 563.4,1497.7 564.2,1486.7 564.9,1495.0 565.7,1478.9 566.4,1488.7 567.2,1490.5 567.9,1497.6 568.7,1500.8 569.4,1499.2 570.2,1493.1 570.9,1500.4 571.7,1508.4 572.4,1497.2 573.2,1506.5 573.9,1509.5 574.7,1515.6 575.4,1514.6 576.2,1515.7 576.9,1531.8 577.6,1504.1 578.4,1507.5 579.1,1513.2 579.9,1504.0 580.6,1508.4 581.4,1508.9 582.1,1529.7 582.9,1513.3 583.6,1507.7 584.4,1499.8 585.1,1498.2 585.9,1501.2 586.6,1520.1 587.4,1527.6 588.1,1507.4 588.9,1511.4 589.6,1504.6 590.4,1512.5 591.1,1510.0 591.8,1522.6 592.6,1508.3 593.3,1514.8 594.1,1509.0 594.8,1508.2 595.6,1512.5 596.3,1509.3 597.1,1511.7 597.8,1506.1 598.6,1507.9 599.3,1515.6 600.1,1515.9 600.8,1498.8 601.6,1512.2 602.3,1503.9 603.1,1507.9 603.8,1514.5 604.6,1515.3 605.3,1508.3 606.0,1506.6 606.8,1503.2 607.5,1516.7 608.3,1510.9 609.0,1506.4 609.8,1492.6 610.5,1522.6 611.3,1500.2 612.0,1507.3 612.8,1499.2 613.5,1506.1 614.3,1499.1 615.0,1489.5 615.8,1499.1 616.5,1498.8 617.3,1500.0 618.0,1509.6 618.8,1500.7 619.5,1507.8 620.2,1513.7 621.0,1509.3 621.7,1512.2 622.5,1506.5 623.2,1513.7 624.0,1518.5 624.7,1505.6 625.5,1509.9 626.2,1508.7 627.0,1513.7 627.7,1519.0 628.5,1521.5 629.2,1520.9 630.0,1512.9 630.7,1518.9 631.5,1529.9 632.2,1520.5 633.0,1530.0 633.7,1519.7 634.5,1529.1 635.2,1529.7 635.9,1520.7 636.7,1522.3 637.4,1532.9 638.2,1517.3 638.9,1508.2 639.7,1532.3 640.4,1510.8 641.2,1527.4 641.9,1526.3 642.7,1524.4 643.4,1532.8 644.2,1515.1 644.9,1520.5 645.7,1528.7 646.4,1525.7 647.2,1533.8 647.9,1526.4 648.7,1518.3 649.4,1535.4 650.1,1527.3 650.9,1523.7 651.6,1518.0 652.4,1516.2 653.1,1527.9 653.9,1529.8 654.6,1522.3 655.4,1527.6 656.1,1527.3 656.9,1518.6 657.6,1514.8 658.4,1524.0 659.1,1527.0 659.9,1522.2 660.6,1537.9 661.4,1526.2 662.1,1532.8 662.9,1511.2 663.6,1521.8 664.3,1525.5 665.1,1527.7 665.8,1542.3 666.6,1522.2 667.3,1516.5 668.1,1531.3 668.8,1522.6 669.6,1522.4 670.3,1536.6 671.1,1521.2 671.8,1518.6 672.6,1525.7 673.3,1527.6 674.1,1522.3 674.8,1536.8 675.6,1526.7 676.3,1520.8 677.1,1535.1 677.8,1521.2 678.5,1530.0 679.3,1540.3 680.0,1528.1 680.8,1533.5 681.5,1525.5 682.3,1534.7 683.0,1520.9 683.8,1532.0 684.5,1525.2 685.3,1531.1 686.0,1529.5 686.8,1520.1 687.5,1526.1 688.3,1529.9 689.0,1535.2 689.8,1520.3 690.5,1522.9 691.3,1529.5 692.0,1525.9 692.7,1533.8 693.5,1533.7 694.2,1532.6 695.0,1525.3 695.7,1525.6 696.5,1532.1 697.2,1522.9 698.0,1522.6 698.7,1526.4 699.5,1521.0 700.2,1529.2 701.0,1528.1 701.7,1524.5 702.5,1527.7 703.2,1522.5 704.0,1535.2 704.7,1518.6 705.5,1532.3 706.2,1528.5 706.9,1536.0 707.7,1523.7 708.4,1519.6 709.2,1520.8 709.9,1522.3 710.7,1537.1 711.4,1532.3 712.2,1530.3 712.9,1533.2 713.7,1520.3 714.4,1526.1 715.2,1527.3 715.9,1524.0 716.7,1532.9 717.4,1532.5 718.2,1532.2 718.9,1523.4 719.7,1524.3 720.4,1522.6 721.1,1519.3 721.9,1534.5 722.6,1529.3 723.4,1524.7 724.1,1534.0 724.9,1528.6 725.6,1518.6 726.4,1517.8 727.1,1517.8 727.9,1524.2 728.6,1525.7 729.4,1517.2 730.1,1526.3 730.9,1521.5 731.6,1515.0 732.4,1525.8 733.1,1527.2 733.9,1523.1 734.6,1518.9 735.3,1519.5 736.1,1521.5 736.8,1518.7 737.6,1532.8 738.3,1527.8 739.1,1520.9 739.8,1528.0 740.6,1530.6 741.3,1529.7 742.1,1527.7 742.8,1522.7 743.6,1528.2 744.3,1519.8 745.1,1510.1 745.8,1522.3 746.6,1512.9 747.3,1519.4 748.1,1528.8 748.8,1523.1 749.5,1527.9 750.3,1516.3 751.0,1529.1 751.8,1512.7 752.5,1517.7 753.3,1534.9 754.0,1516.4 754.8,1511.3 755.5,1526.9 756.3,1515.2 757.0,1533.6 757.8,1520.1 758.5,1532.8 759.3,1518.7 760.0,1533.7 760.8,1539.3 761.5,1519.4 762.3,1507.0 763.0,1526.0 763.8,1516.7 764.5,1521.5 765.2,1524.4 766.0,1518.2 766.7,1511.5 767.5,1530.5 768.2,1518.7 769.0,1520.2 769.7,1531.8 770.5,1511.9 771.2,1509.7 772.0,1528.8 772.7,1511.1 773.5,1522.2 774.2,1523.6 775.0,1512.7 775.7,1521.1 776.5,1520.4 777.2,1512.5 778.0,1513.9 778.7,1516.4 779.4,1531.3 780.2,1532.3 780.9,1514.3 781.7,1527.7 782.4,1520.3 783.2,1528.2 783.9,1521.9 784.7,1529.0 785.4,1509.1 786.2,1526.6 786.9,1520.2 787.7,1520.2 788.4,1510.3 789.2,1527.9 789.9,1517.9 790.7,1518.7 791.4,1513.1 792.2,1513.0 792.9,1519.1 793.6,1513.7 794.4,1517.5 795.1,1511.0 795.9,1514.5 796.6,1517.8 797.4,1512.5 798.1,1508.7 798.9,1493.7 799.6,1513.0 800.4,1506.0 801.1,1496.1 801.9,1521.9 802.6,1518.3 803.4,1512.9 804.1,1503.3 804.9,1481.9 805.6,1496.8 806.4,1488.8 807.1,1499.0 807.8,1516.0 808.6,1513.5 809.3,1484.0 810.1,1489.4 810.8,1500.5 811.6,1477.8 812.3,1499.3 813.1,1473.7 813.8,1468.8 814.6,1486.8 815.3,1488.0 816.1,1467.9 816.8,1484.2 817.6,1463.8 818.3,1481.6 819.1,1460.4 819.8,1465.4 820.6,1468.7 821.3,1471.6 822.0,1458.5 822.8,1478.5 823.5,1460.8 824.3,1460.8 825.0,1448.5 825.8,1467.3 826.5,1435.2 827.3,1455.2 828.0,1462.8 828.8,1435.2 829.5,1431.4 830.3,1450.3 831.0,1457.3 831.8,1447.4 832.5,1455.0 833.3,1451.3 834.0,1432.2 834.8,1445.6 835.5,1449.4 836.2,1448.7 837.0,1454.4 837.7,1446.8 838.5,1448.1 839.2,1462.5 840.0,1459.2 840.7,1437.6 841.5,1459.0 842.2,1466.6 843.0,1446.4 843.7,1468.1 844.5,1480.5 845.2,1465.4 846.0,1482.2 846.7,1480.3 847.5,1474.7 848.2,1481.3 849.0,1489.6 849.7,1490.2 850.4,1493.1 851.2,1480.4 851.9,1498.6 852.7,1499.2 853.4,1479.0 854.2,1501.6 854.9,1486.1 855.7,1488.6 856.4,1501.4 857.2,1512.4 857.9,1498.4 858.7,1497.5 859.4,1496.0 860.2,1503.7 860.9,1495.7 861.7,1495.0 862.4,1514.3 863.2,1496.0 863.9,1506.2 864.6,1512.3 865.4,1511.0 866.1,1495.1 866.9,1502.3 867.6,1523.4 868.4,1510.1 869.1,1512.3 869.9,1513.2 870.6,1516.3 871.4,1523.7 872.1,1507.8 872.9,1521.4 873.6,1518.1 874.4,1520.5 875.1,1522.1 875.9,1512.7 876.6,1516.0 877.4,1524.0 878.1,1526.5 878.8,1524.0 879.6,1515.1 880.3,1521.3 881.1,1521.2 881.8,1525.3 882.6,1525.3 883.3,1522.5 884.1,1536.1 884.8,1514.0 885.6,1529.5 886.3,1528.1 887.1,1515.8 887.8,1523.0 888.6,1524.1 889.3,1528.1 890.1,1534.4 890.8,1523.2 891.6,1516.7 892.3,1530.2 893.1,1515.6 893.8,1531.6 894.5,1529.1 895.3,1521.1 896.0,1524.4 896.8,1520.0 897.5,1529.2 898.3,1531.0 899.0,1536.4 899.8,1532.1 900.5,1531.3 901.3,1533.6 902.0,1522.4 902.8,1528.7 903.5,1537.2 904.3,1508.4 905.0,1529.8 905.8,1532.5 906.5,1516.4 907.3,1516.9 908.0,1531.8 908.7,1533.9 909.5,1530.8 910.2,1517.1 911.0,1526.2 911.7,1529.3 912.5,1524.2 913.2,1516.1 914.0,1532.7 914.7,1526.0 915.5,1532.3 916.2,1508.9 917.0,1511.0 917.7,1516.3 918.5,1523.2 919.2,1517.7 920.0,1535.5 920.7,1519.6 921.5,1529.9 922.2,1529.5 922.9,1525.1 923.7,1522.4 924.4,1515.9 925.2,1514.6 925.9,1517.2 926.7,1524.9 927.4,1513.7 928.2,1518.7 928.9,1509.5 929.7,1523.3 930.4,1535.5 931.2,1519.6 931.9,1501.3 932.7,1512.4 933.4,1516.6 934.2,1508.8 934.9,1511.1 935.7,1511.0 936.4,1517.5 937.1,1513.1 937.9,1511.9 938.6,1517.5 939.4,1520.5 940.1,1511.5 940.9,1505.4 941.6,1507.5 942.4,1508.3 943.1,1508.0 943.9,1493.3 944.6,1509.4 945.4,1503.7 946.1,1497.1 946.9,1510.3 947.6,1508.6 948.4,1502.9 949.1,1498.2 949.9,1507.6 950.6,1507.1 951.3,1508.7 952.1,1517.6 952.8,1501.0 953.6,1510.3 954.3,1520.3 955.1,1508.8 955.8,1519.6 956.6,1514.0 957.3,1506.2 958.1,1512.3 958.8,1497.4 959.6,1515.1 960.3,1502.0 961.1,1499.3 961.8,1492.0 962.6,1495.3 963.3,1499.6 964.1,1500.1 964.8,1500.4 965.5,1490.7 966.3,1503.3 967.0,1493.8 967.8,1497.6 968.5,1494.3 969.3,1497.3 970.0,1478.2 970.8,1498.7 971.5,1490.9 972.3,1489.9 973.0,1486.5 973.8,1486.9 974.5,1486.4 975.3,1481.3 976.0,1500.1 976.8,1487.5 977.5,1496.7 978.3,1484.3 979.0,1494.8 979.7,1492.2 980.5,1484.1 981.2,1471.3 982.0,1476.8 982.7,1477.9 983.5,1467.5 984.2,1485.3 985.0,1493.2 985.7,1477.1 986.5,1472.9 987.2,1456.2 988.0,1444.0 988.7,1470.4 989.5,1431.0 990.2,1434.1 991.0,1435.6 991.7,1434.0 992.5,1406.6 993.2,1422.6 993.9,1420.2 994.7,1405.1 995.4,1411.5 996.2,1379.6 996.9,1373.5 997.7,1357.0 998.4,1346.2 999.2,1350.7 999.9,1318.8 1000.7,1324.9 1001.4,1288.6 1002.2,1281.3 1002.9,1241.4 1003.7,1218.2 1004.4,1178.8 1005.2,1142.2 1005.9,1101.6 1006.7,1036.0 1007.4,951.7 1008.2,851.4 1008.9,715.8 1009.6,606.2 1010.4,567.2 1011.1,543.8 1011.9,542.5 1012.6,568.0 1013.4,602.7 1014.1,648.3 1014.9,696.9 1015.6,759.2 1016.4,805.6 1017.1,853.2 1017.9,904.4 1018.6,941.0 1019.4,1007.9 1020.1,1087.1 1020.9,1151.7 1021.6,1218.4 1022.4,1275.0 1023.1,1311.4 1023.8,1336.8 1024.6,1372.2 1025.3,1377.0 1026.1,1376.2 1026.8,1411.7 1027.6,1419.9 1028.3,1429.1 1029.1,1428.5 1029.8,1437.4 1030.6,1447.2 1031.3,1461.4 1032.1,1456.7 1032.8,1463.8 1033.6,1472.8 1034.3,1464.4 1035.1,1474.0 1035.8,1486.0 1036.6,1473.7 1037.3,1487.0 1038.0,1483.1 1038.8,1499.9 1039.5,1491.3 1040.3,1499.4 1041.0,1501.1 1041.8,1508.8 1042.5,1483.7 1043.3,1500.0 1044.0,1498.9 1044.8,1494.8 1045.5,1503.9 1046.3,1501.3 1047.0,1514.1 1047.8,1506.0 1048.5,1511.1 1049.3,1507.4 1050.0,1511.0 1050.8,1521.7 1051.5,1525.9 1052.2,1522.7 1053.0,1514.4 1053.7,1516.9 1054.5,1517.3 1055.2,1530.2 1056.0,1533.7 1056.7,1522.8 1057.5,1521.2 1058.2,1522.6 1059.0,1517.5 1059.7,1520.3 1060.5,1525.6 1061.2,1523.9 1062.0,1518.5 1062.7,1518.8 1063.5,1519.5 1064.2,1507.3 1065.0,1520.4 1065.7,1518.4 1066.4,1524.1 1067.2,1520.8 1067.9,1516.1 1068.7,1515.8 1069.4,1519.5 1070.2,1516.6 1070.9,1518.3 1071.7,1528.4 1072.4,1535.6 1073.2,1506.3 1073.9,1514.0 1074.7,1518.6 1075.4,1527.4 1076.2,1524.9 1076.9,1511.0 1077.7,1532.7 1078.4,1519.7 1079.2,1513.4 1079.9,1517.2 1080.6,1513.9 1081.4,1518.5 1082.1,1505.2 1082.9,1523.2 1083.6,1524.9 1084.4,1516.3 1085.1,1510.2 1085.9,1518.0 1086.6,1512.2 1087.4,1520.5 1088.1,1524.0 1088.9,1510.3 1089.6,1509.4 1090.4,1509.6 1091.1,1520.0 1091.9,1523.8 1092.6,1523.9 1093.4,1518.9 1094.1,1514.6 1094.8,1515.0 1095.6,1525.3 1096.3,1516.7 1097.1,1517.6 1097.8,1517.2 1098.6,1517.8 1099.3,1518.8 1100.1,1514.6 1100.8,1517.1 1101.6,1516.5 1102.3,1521.4 1103.1,1515.7 1103.8,1518.4 1104.6,1528.9 1105.3,1515.2 1106.1,1519.2 1106.8,1512.9 1107.6,1518.6 1108.3,1518.3 1109.0,1516.7 1109.8,1517.8 1110.5,1520.1 1111.3,1527.3 1112.0,1508.1 1112.8,1526.1 1113.5,1519.6 1114.3,1514.4 1115.0,1515.8 1115.8,1514.8 1116.5,1513.8 1117.3,1511.2 1118.0,1516.3 1118.8,1502.5 1119.5,1523.2 1120.3,1516.7 1121.0,1519.8 1121.8,1520.8 1122.5,1516.4 1123.2,1510.2 1124.0,1521.7 1124.7,1521.7 1125.5,1514.1 1126.2,1515.1 1127.0,1507.6 1127.7,1512.6 1128.5,1516.8 1129.2,1519.7 1130.0,1516.9 1130.7,1518.9 1131.5,1525.2 1132.2,1518.0 1133.0,1519.0 1133.7,1519.3 1134.5,1520.3 1135.2,1509.2 1136.0,1514.4 1136.7,1513.2 1137.5,1521.3 1138.2,1523.5 1138.9,1519.6 1139.7,1516.8 1140.4,1519.9 1141.2,1519.1 1141.9,1513.1 1142.7,1516.6 1143.4,1523.3 1144.2,1520.4 1144.9,1521.7 1145.7,1517.3 1146.4,1524.4 1147.2,1519.2 1147.9,1514.6 1148.7,1518.1 1149.4,1523.1 1150.2,1521.5 1150.9,1517.6 1151.7,1515.8 1152.4,1513.9 1153.1,1519.1 1153.9,1525.3 1154.6,1510.9 1155.4,1516.8 1156.1,1516.3 1156.9,1516.8 1157.6,1523.9 1158.4,1520.1 1159.1,1517.2 1159.9,1513.1 1160.6,1518.2 1161.4,1534.9 1162.1,1519.9 1162.9,1516.8 1163.6,1511.9 1164.4,1515.0 1165.1,1505.8 1165.9,1511.4 1166.6,1511.8 1167.3,1514.0 1168.1,1526.1 1168.8,1514.6 1169.6,1515.9 1170.3,1521.8 1171.1,1516.0 1171.8,1517.0 1172.6,1521.6 1173.3,1519.9 1174.1,1520.7 1174.8,1518.1 1175.6,1521.6 1176.3,1516.6 1177.1,1529.4 1177.8,1521.0 1178.6,1528.3 1179.3,1522.1 1180.1,1517.0 1180.8,1519.6 1181.5,1520.4 1182.3,1519.5 1183.0,1511.8 1183.8,1525.7 1184.5,1515.5 1185.3,1527.9 1186.0,1522.6 1186.8,1519.4 1187.5,1524.6 1188.3,1519.3 1189.0,1516.6 1189.8,1526.6 1190.5,1520.9 1191.3,1522.5 1192.0,1530.5 1192.8,1521.6 1193.5,1524.8 1194.3,1513.9 1195.0,1525.3 1195.7,1512.2 1196.5,1523.7 1197.2,1511.1 1198.0,1518.3 1198.7,1518.8 1199.5,1517.0 1200.2,1516.6 1201.0,1514.1 1201.7,1512.5 1202.5,1523.1 1203.2,1527.8 1204.0,1535.0 1204.7,1523.5 1205.5,1517.7 1206.2,1519.7 1207.0,1521.1 1207.7,1523.5 1208.5,1525.0 1209.2,1523.2 1209.9,1519.9 1210.7,1530.8 1211.4,1518.2 1212.2,1529.3 1212.9,1522.8 1213.7,1525.2 1214.4,1523.9 1215.2,1527.4 1215.9,1528.0 1216.7,1523.4 1217.4,1527.7 1218.2,1509.9 1218.9,1524.4 1219.7,1525.6 1220.4,1525.1 1221.2,1527.8 1221.9,1534.8 1222.7,1523.7 1223.4,1520.9 1224.1,1530.0 1224.9,1522.5 1225.6,1528.6 1226.4,1522.7 1227.1,1520.8 1227.9,1520.1 1228.6,1520.4 1229.4,1526.1 1230.1,1518.2 1230.9,1524.9 1231.6,1520.9 1232.4,1519.1 1233.1,1524.1 1233.9,1529.1 1234.6,1519.5 1235.4,1528.2 1236.1,1527.1 1236.9,1528.1 1237.6,1518.4 1238.3,1523.4 1239.1,1533.9 1239.8,1518.9 1240.6,1512.2 1241.3,1513.5 1242.1,1525.4 1242.8,1522.2 1243.6,1520.0 1244.3,1518.1 1245.1,1522.4 1245.8,1528.0 1246.6,1518.7 1247.3,1519.4 1248.1,1529.2 1248.8,1524.3 1249.6,1521.1 1250.3,1522.5 1251.1,1519.8 1251.8,1518.5 1252.5,1519.7 1253.3,1523.0 1254.0,1529.2 1254.8,1519.3 1255.5,1515.3 1256.3,1512.4 1257.0,1522.5 1257.8,1522.5 1258.5,1515.1 1259.3,1515.1 1260.0,1520.6 1260.8,1518.7 1261.5,1526.1 1262.3,1519.3 1263.0,1526.4 1263.8,1523.0 1264.5,1522.8 1265.3,1524.6 1266.0,1532.8 1266.8,1526.3 1267.5,1520.5 1268.2,1522.4 1269.0,1524.1 1269.7,1519.9 1270.5,1518.6 1271.2,1517.8 1272.0,1526.1 1272.7,1521.9 1273.5,1523.7 1274.2,1526.4 1275.0,1529.5 1275.7,1522.4 1276.5,1526.3 1277.2,1511.0 1278.0,1522.4 1278.7,1523.0 1279.5,1523.8 1280.2,1512.3 1281.0,1526.6 1281.7,1522.6 1282.4,1525.6 1283.2,1522.3 1283.9,1521.9 1284.7,1516.1 1285.4,1528.8 1286.2,1521.7 1286.9,1513.4 1287.7,1524.2 1288.4,1522.4 1289.2,1526.0 1289.9,1534.8 1290.7,1522.0 1291.4,1515.5 1292.2,1523.8 1292.9,1530.8 1293.7,1520.0 1294.4,1520.9 1295.2,1516.2 1295.9,1516.7 1296.6,1522.7 1297.4,1519.2 1298.1,1530.4 1298.9,1515.5 1299.6,1520.2 1300.4,1515.6 1301.1,1515.7 1301.9,1522.6 1302.6,1521.8 1303.4,1525.5 1304.1,1531.6 1304.9,1521.7 1305.6,1520.2 1306.4,1526.5 1307.1,1517.3 1307.9,1520.4 1308.6,1518.6 1309.4,1524.8 1310.1,1529.9 1310.8,1516.8 1311.6,1517.7 1312.3,1521.3 1313.1,1522.9 1313.8,1522.1 1314.6,1521.4 1315.3,1523.3 1316.1,1530.9 1316.8,1516.6 1317.6,1528.3 1318.3,1522.3 1319.1,1522.1 1319.8,1519.2 1320.6,1528.8 1321.3,1514.3 1322.1,1517.1 1322.8,1516.5 1323.6,1513.9 1324.3,1524.5 1325.0,1536.5 1325.8,1518.6 1326.5,1513.5 1327.3,1514.3 1328.0,1523.0 1328.8,1520.7 1329.5,1518.7 1330.3,1529.5 1331.0,1523.6 1331.8,1523.4 1332.5,1511.9 1333.3,1523.4 1334.0,1511.9 1334.8,1519.9 1335.5,1528.6 1336.3,1508.5 1337.0,1524.9 1337.8,1516.7 1338.5,1511.1 1339.2,1522.6 1340.0,1526.2 1340.7,1514.4 1341.5,1519.4 1342.2,1526.1 1343.0,1525.3 1343.7,1521.7 1344.5,1514.7 1345.2,1521.1 1346.0,1516.2 1346.7,1511.0 1347.5,1513.0 1348.2,1512.1 1349.0,1513.1 1349.7,1527.8 1350.5,1513.1 1351.2,1517.7 1352.0,1520.0 1352.7,1525.0 1353.4,1527.6 1354.2,1525.1 1354.9,1519.4 1355.7,1525.3 1356.4,1523.4 1357.2,1522.4 1357.9,1515.7 1358.7,1520.6 1359.4,1519.8 1360.2,1512.1 1360.9,1520.7 1361.7,1515.8 1362.4,1524.5 1363.2,1517.2 1363.9,1518.3 1364.7,1517.9 1365.4,1521.3 1366.2,1524.2 1366.9,1520.3 1367.6,1521.2 1368.4,1513.3 1369.1,1513.9 1369.9,1524.9 1370.6,1515.3 1371.4,1521.1 1372.1,1516.1 1372.9,1521.0 1373.6,1526.2 1374.4,1513.1 1375.1,1516.0 1375.9,1524.8 1376.6,1528.3 1377.4,1521.1 1378.1,1524.5 1378.9,1520.2 1379.6,1515.0 1380.4,1510.5 1381.1,1520.0 1381.9,1510.9 1382.6,1512.0 1383.3,1520.4 1384.1,1526.8 1384.8,1513.5 1385.6,1514.8 1386.3,1505.6 1387.1,1510.4 1387.8,1513.8 1388.6,1509.0 1389.3,1523.4 1390.1,1516.8 1390.8,1519.2 1391.6,1508.6 1392.3,1514.8 1393.1,1533.9 1393.8,1510.4 1394.6,1522.4 1395.3,1513.5 1396.1,1520.1 1396.8,1516.3 1397.5,1514.2 1398.3,1516.5 1399.0,1522.5 1399.8,1510.1 1400.5,1515.3 1401.3,1517.5 1402.0,1513.6 1402.8,1520.2 1403.5,1507.4 1404.3,1516.1 1405.0,1515.4 1405.8,1515.4 1406.5,1522.1 1407.3,1523.5 1408.0,1516.1 1408.8,1515.3 1409.5,1510.0 1410.3,1514.8 1411.0,1522.9 1411.7,1514.3 1412.5,1512.7 1413.2,1511.8 1414.0,1515.3 1414.7,1523.6 1415.5,1510.9 1416.2,1520.9 1417.0,1514.0 1417.7,1525.4 1418.5,1513.0 1419.2,1521.2 1420.0,1511.3 1420.7,1507.6 1421.5,1510.8 1422.2,1523.2 1423.0,1522.0 1423.7,1521.6 1424.5,1513.5 1425.2,1515.2 1425.9,1516.2 1426.7,1515.3 1427.4,1513.9 1428.2,1513.5 1428.9,1508.0 1429.7,1517.3 1430.4,1515.9 1431.2,1526.9 1431.9,1524.0 1432.7,1520.7 1433.4,1523.3 1434.2,1515.8 1434.9,1511.5 1435.7,1519.3 1436.4,1519.6 1437.2,1519.8 1437.9,1516.3 1438.7,1519.9 1439.4,1514.8 1440.1,1515.5 1440.9,1515.2 1441.6,1513.0 1442.4,1516.9 1443.1,1516.3 1443.9,1507.7 1444.6,1517.3 1445.4,1512.8 1446.1,1516.8 1446.9,1519.5 1447.6,1519.5 1448.4,1521.4 1449.1,1517.0 1449.9,1520.3 1450.6,1519.3 1451.4,1510.6 1452.1,1517.8 1452.9,1511.0 1453.6,1515.7 1454.3,1512.5 1455.1,1520.3 1455.8,1516.3 1456.6,1503.1 1457.3,1512.7 1458.1,1511.8 1458.8,1515.9 1459.6,1512.5 1460.3,1523.3 1461.1,1521.6 1461.8,1514.8 1462.6,1512.8 1463.3,1519.3 1464.1,1518.1 1464.8,1519.0 1465.6,1518.1 1466.3,1523.5 1467.1,1524.7 1467.8,1517.6 1468.5,1526.4 1469.3,1522.3 1470.0,1520.7 1470.8,1522.7 1471.5,1515.9 1472.3,1519.5 1473.0,1517.6 1473.8,1522.5 1474.5,1521.1 1475.3,1514.5 1476.0,1515.3 1476.8,1519.7 1477.5,1515.2 1478.3,1516.1 1479.0,1516.2 1479.8,1508.5 1480.5,1519.1 1481.3,1514.6 1482.0,1514.5 1482.7,1517.9 1483.5,1522.7 1484.2,1512.7 1485.0,1514.8 1485.7,1515.8 1486.5,1515.7 1487.2,1515.6 1488.0,1520.3 1488.7,1513.7 1489.5,1524.9 1490.2,1515.0 1491.0,1522.8 1491.7,1516.4 1492.5,1510.3 1493.2,1515.4 1494.0,1516.4 1494.7,1510.7 1495.5,1514.7 1496.2,1515.3 1496.9,1514.9 1497.7,1504.1 1498.4,1508.5 1499.2,1509.3 1499.9,1518.4 1500.7,1508.0 1501.4,1518.5 1502.2,1508.3 1502.9,1517.0 1503.7,1499.4 1504.4,1519.8 1505.2,1503.0 1505.9,1505.1 1506.7,1519.6 1507.4,1510.6 1508.2,1500.7 1508.9,1502.3 1509.7,1518.1 1510.4,1511.3 1511.2,1514.9 1511.9,1513.8 1512.6,1511.4 1513.4,1496.8 1514.1,1506.4 1514.9,1508.3 1515.6,1508.7 1516.4,1502.6 1517.1,1502.3 1517.9,1511.5 1518.6,1497.2 1519.4,1512.0 1520.1,1507.0 1520.9,1502.4 1521.6,1494.7 1522.4,1506.7 1523.1,1502.7 1523.9,1496.3 1524.6,1500.1 1525.4,1496.8 1526.1,1497.0 1526.8,1501.4 1527.6,1498.9 1528.3,1496.8 1529.1,1502.3 1529.8,1492.0 1530.6,1513.8 1531.3,1506.9 1532.1,1491.9 1532.8,1497.8 1533.6,1504.2 1534.3,1497.4 1535.1,1492.6 1535.8,1502.6 1536.6,1493.8 1537.3,1499.0 1538.1,1498.5 1538.8,1497.7 1539.6,1489.6 1540.3,1503.5 1541.0,1498.1 1541.8,1490.9 1542.5,1502.6 1543.3,1504.5 1544.0,1489.8 1544.8,1492.9 1545.5,1493.4 1546.3,1490.8 1547.0,1497.7 1547.8,1470.9 1548.5,1496.7 1549.3,1492.3 1550.0,1498.5 1550.8,1491.0 1551.5,1477.0 1552.3,1486.8 1553.0,1482.2 1553.8,1489.2 1554.5,1472.4 1555.2,1483.4 1556.0,1492.9 1556.7,1478.0 1557.5,1485.6 1558.2,1478.0 1559.0,1480.9 1559.7,1479.4 1560.5,1479.8 1561.2,1486.9 1562.0,1490.7 1562.7,1472.0 1563.5,1479.6 1564.2,1475.9 1565.0,1480.9 1565.7,1491.9 1566.5,1485.7 1567.2,1465.0 1568.0,1480.7 1568.7,1476.9 1569.4,1484.4 1570.2,1476.5 1570.9,1474.5 1571.7,1472.4 1572.4,1470.3 1573.2,1473.7 1573.9,1472.2 1574.7,1466.7 1575.4,1462.9 1576.2,1465.4 1576.9,1448.9 1577.7,1459.9 1578.4,1458.9 1579.2,1464.1 1579.9,1448.6 1580.7,1464.2 1581.4,1467.6 1582.2,1460.5 1582.9,1445.2 1583.6,1458.6 1584.4,1435.6 1585.1,1445.2 1585.9,1456.2 1586.6,1442.3 1587.4,1421.1 1588.1,1441.9 1588.9,1442.4 1589.6,1420.9 1590.4,1407.0 1591.1,1397.4 1591.9,1394.9 1592.6,1372.1 1593.4,1354.4 1594.1,1328.1 1594.9,1303.4 1595.6,1312.3 1596.4,1294.0 1597.1,1298.1 1597.8,1278.0 1598.6,1277.3 1599.3,1273.1 1600.1,1272.2 1600.8,1295.5 1601.6,1297.8 1602.3,1326.4 1603.1,1342.9 1603.8,1365.2 1604.6,1380.1 1605.3,1383.3 1606.1,1379.6 1606.8,1364.5 1607.6,1416.7 1608.3,1410.5 1609.1,1425.3 1609.8,1441.6 1610.6,1437.7 1611.3,1453.2 1612.0,1450.1 1612.8,1442.3 1613.5,1474.0 1614.3,1458.2 1615.0,1460.3 1615.8,1475.5 1616.5,1467.0 1617.3,1471.9 1618.0,1480.5 1618.8,1471.5 1619.5,1493.2 1620.3,1480.9 1621.0,1489.2 1621.8,1496.5 1622.5,1490.8 1623.3,1492.6 1624.0,1484.6 1624.8,1501.7 1625.5,1492.8 1626.2,1495.0 1627.0,1480.9 1627.7,1500.5 1628.5,1485.3 1629.2,1505.7 1630.0,1491.0 1630.7,1494.7 1631.5,1491.3 1632.2,1499.3 1633.0,1508.3 1633.7,1505.7 1634.5,1485.6 1635.2,1493.6 1636.0,1501.3 1636.7,1489.0 1637.5,1500.7 1638.2,1500.8 1639.0,1504.2 1639.7,1487.4 1640.5,1481.8 1641.2,1502.6 1641.9,1493.7 1642.7,1488.7 1643.4,1480.4 1644.2,1512.2 1644.9,1493.8 1645.7,1489.7 1646.4,1504.4 1647.2,1490.2 1647.9,1491.0 1648.7,1486.3 1649.4,1495.0 1650.2,1486.5 1650.9,1493.1 1651.7,1482.7 1652.4,1484.8 1653.2,1487.4 1653.9,1494.0 1654.7,1468.4 1655.4,1470.7 1656.1,1470.6 1656.9,1478.3 1657.6,1467.8 1658.4,1441.6 1659.1,1443.8 1659.9,1452.9 1660.6,1438.9 1661.4,1433.3 1662.1,1433.4 1662.9,1439.6 1663.6,1418.5 1664.4,1427.2 1665.1,1437.9 1665.9,1454.5 1666.6,1448.3 1667.4,1445.9 1668.1,1440.3 1668.9,1453.7 1669.6,1442.1 1670.3,1453.0 1671.1,1463.5 1671.8,1485.1 1672.6,1475.4 1673.3,1483.3 1674.1,1477.9 1674.8,1479.5 1675.6,1476.4 1676.3,1491.0 1677.1,1503.0 1677.8,1481.5 1678.6,1499.4 1679.3,1506.2 1680.1,1508.5 1680.8,1517.3 1681.6,1505.6 1682.3,1508.5 1683.1,1501.8 1683.8,1505.9 1684.5,1508.3 1685.3,1506.5 1686.0,1516.6 1686.8,1517.8 1687.5,1515.4 1688.3,1522.8 1689.0,1515.9 1689.8,1517.1 1690.5,1510.9 1691.3,1515.1 1692.0,1526.8 1692.8,1514.8 1693.5,1506.3 1694.3,1526.3 1695.0,1519.7 1695.8,1514.9 1696.5,1523.2 1697.3,1518.4 1698.0,1514.6 1698.7,1523.1 1699.5,1513.2 1700.2,1512.4 1701.0,1522.8 1701.7,1514.8 1702.5,1508.3 1703.2,1516.0 1704.0,1512.2 1704.7,1511.0 1705.5,1516.4 1706.2,1508.9 1707.0,1512.5 1707.7,1521.0 1708.5,1511.7 1709.2,1509.6 1710.0,1509.9 1710.7,1518.9 1711.5,1512.0 1712.2,1506.4 1712.9,1513.4 1713.7,1507.5 1714.4,1506.8 1715.2,1515.1 1715.9,1510.8 1716.7,1516.6 1717.4,1508.2 1718.2,1515.4 1718.9,1518.2 1719.7,1515.0 1720.4,1515.3 1721.2,1512.4 1721.9,1511.9 1722.7,1522.0 1723.4,1518.8 1724.2,1512.6 1724.9,1511.8 1725.7,1514.3 1726.4,1498.5 1727.1,1507.9 1727.9,1515.2 1728.6,1510.2 1729.4,1506.5 1730.1,1512.5 1730.9,1525.5 1731.6,1514.1 1732.4,1514.4 1733.1,1501.5 1733.9,1526.0 1734.6,1505.1 1735.4,1515.6 1736.1,1508.9 1736.9,1516.5 1737.6,1513.6 1738.4,1507.6 1739.1,1514.1 1739.9,1508.1 1740.6,1515.1 1741.3,1517.1 1742.1,1516.0 1742.8,1517.7 1743.6,1515.3 1744.3,1506.2 1745.1,1521.8 1745.8,1524.8 1746.6,1514.7 1747.3,1504.2 1748.1,1508.1 1748.8,1506.4 1749.6,1506.8 1750.3,1519.1 1751.1,1513.8 1751.8,1531.0 1752.6,1518.3 1753.3,1510.8 1754.1,1524.1 1754.8,1527.3 1755.6,1522.5 1756.3,1513.2 1757.0,1507.3 1757.8,1498.5 1758.5,1505.6 1759.3,1523.8 1760.0,1528.8 1760.8,1513.5 1761.5,1507.9 1762.3,1524.4 1763.0,1517.6 1763.8,1517.2 1764.5,1514.2 1765.3,1515.5 1766.0,1511.2 1766.8,1507.8 1767.5,1513.9 1768.3,1509.7 1769.0,1502.0 1769.8,1520.6 1770.5,1520.8 1771.2,1511.1 1772.0,1502.8 1772.7,1513.2 1773.5,1507.5 1774.2,1516.1 1775.0,1508.6 1775.7,1518.1 1776.5,1510.0 1777.2,1511.7 1778.0,1511.7 1778.7,1505.7 1779.5,1507.6 1780.2,1517.8 1781.0,1508.7 1781.7,1524.6 1782.5,1508.0 1783.2,1497.1 1784.0,1510.8 1784.7,1510.9 1785.4,1513.6 1786.2,1508.9 1786.9,1516.8 1787.7,1509.8 1788.4,1515.6 1789.2,1516.6 1789.9,1513.2 1790.7,1514.3 1791.4,1524.6 1792.2,1501.1 1792.9,1513.0 1793.7,1524.4 1794.4,1507.2 1795.2,1514.1 1795.9,1512.6 1796.7,1509.5 1797.4,1519.4 1798.2,1532.1 1798.9,1514.5 1799.6,1512.4 1800.4,1507.7 1801.1,1518.5 1801.9,1515.5 1802.6,1511.4 1803.4,1515.8 1804.1,1515.4 1804.9,1512.3 1805.6,1520.0 1806.4,1504.1 1807.1,1519.6 1807.9,1513.7 1808.6,1515.9 1809.4,1518.2 1810.1,1510.6 1810.9,1507.6 1811.6,1504.9 1812.4,1510.3 1813.1,1516.7 1813.8,1508.6 1814.6,1522.8 1815.3,1513.6 1816.1,1510.7 1816.8,1510.4 1817.6,1521.0 1818.3,1523.2 1819.1,1503.7 1819.8,1517.1 1820.6,1524.1 1821.3,1521.6 1822.1,1513.8 1822.8,1506.6 1823.6,1513.9 1824.3,1506.5 1825.1,1512.5 1825.8,1510.9 1826.6,1507.7 1827.3,1516.1 1828.0,1512.0 1828.8,1516.2 1829.5,1517.7 1830.3,1509.6 1831.0,1518.8 1831.8,1513.1 1832.5,1518.5 1833.3,1514.1 1834.0,1516.8 1834.8,1506.7 1835.5,1512.9 1836.3,1512.9 1837.0,1503.1 1837.8,1531.3 1838.5,1520.2 1839.3,1530.3 1840.0,1513.2 1840.8,1510.4 1841.5,1509.1 1842.2,1511.4 1843.0,1518.4 1843.7,1502.0 1844.5,1511.0 1845.2,1514.4 1846.0,1519.8 1846.7,1510.0 1847.5,1515.7 1848.2,1515.4 1849.0,1511.2 1849.7,1511.0 1850.5,1517.5 1851.2,1504.3 1852.0,1518.5 1852.7,1519.1 1853.5,1510.0 1854.2,1511.1 1855.0,1511.4 1855.7,1514.3 1856.4,1511.4 1857.2,1515.1 1857.9,1521.9 1858.7,1506.7 1859.4,1517.7 1860.2,1512.6 1860.9,1506.4 1861.7,1510.8 1862.4,1493.3 1863.2,1519.7 1863.9,1515.4 1864.7,1510.0 1865.4,1501.7 1866.2,1511.9 1866.9,1519.4 1867.7,1502.8 1868.4,1515.9 1869.2,1511.2 1869.9,1504.1 1870.6,1514.0 1871.4,1512.5 1872.1,1506.3 1872.9,1510.6 1873.6,1507.4 1874.4,1515.2 1875.1,1509.7 1875.9,1516.0 1876.6,1518.9 1877.4,1497.2 1878.1,1505.5 1878.9,1502.4 1879.6,1514.6 1880.4,1508.3 1881.1,1509.4 1881.9,1517.2 1882.6,1504.2 1883.4,1512.4 1884.1,1508.8 1884.9,1517.4 1885.6,1500.7 1886.3,1502.1 1887.1,1504.3 1887.8,1512.8 1888.6,1510.2 1889.3,1498.3 1890.1,1508.1 1890.8,1504.3 1891.6,1504.9 1892.3,1513.1 1893.1,1495.2 1893.8,1518.5 1894.6,1503.5 1895.3,1505.3 1896.1,1515.4 1896.8,1502.0 1897.6,1500.4 1898.3,1503.3 1899.1,1509.0 1899.8,1499.9 1900.5,1495.1 1901.3,1500.8 1902.0,1490.2 1902.8,1495.7 1903.5,1495.9 1904.3,1491.1 1905.0,1504.8 1905.8,1503.3 1906.5,1495.4 1907.3,1494.6 1908.0,1486.8 1908.8,1488.5 1909.5,1494.5 1910.3,1493.2 1911.0,1495.7 1911.8,1495.3 1912.5,1494.7 1913.3,1483.0 1914.0,1491.4 1914.7,1488.3 1915.5,1481.8 1916.2,1484.2 1917.0,1479.0 1917.7,1491.8 1918.5,1467.4 1919.2,1469.5 1920.0,1461.3 1920.7,1455.3 1921.5,1470.3 1922.2,1425.8 1923.0,1440.0 1923.7,1432.5 1924.5,1442.2 1925.2,1403.9 1926.0,1390.5 1926.7,1383.5 1927.5,1363.5 1928.2,1343.2 1928.9,1351.9 1929.7,1351.0 1930.4,1323.3 1931.2,1324.2 1931.9,1313.3 1932.7,1266.1 1933.4,1248.7 1934.2,1225.2 1934.9,1206.4 1935.7,1196.7 1936.4,1184.0 1937.2,1177.6 1937.9,1176.3 1938.7,1170.7 1939.4,1168.8 1940.2,1180.4 1940.9,1197.0 1941.7,1213.4 1942.4,1228.1 1943.1,1235.3 1943.9,1249.0 1944.6,1258.1 1945.4,1262.3 1946.1,1299.0 1946.9,1297.2 1947.6,1287.9 1948.4,1342.9 1949.1,1322.2 1949.9,1361.7 1950.6,1351.2 1951.4,1350.7 1952.1,1368.7 1952.9,1414.1 1953.6,1435.1 1954.4,1448.0 1955.1,1435.0 1955.9,1452.1 1956.6,1454.3 1957.3,1457.1 1958.1,1460.0 1958.8,1462.4 1959.6,1468.8 1960.3,1485.7 1961.1,1463.1 1961.8,1499.2 1962.6,1469.5 1963.3,1485.9 1964.1,1484.4 1964.8,1488.4 1965.6,1488.6 1966.3,1487.0 1967.1,1489.9 1967.8,1496.7 1968.6,1482.8 1969.3,1494.1 1970.1,1480.4 1970.8,1492.1 1971.5,1496.7 1972.3,1488.8 1973.0,1486.0 1973.8,1499.7 1974.5,1495.4 1975.3,1483.3 1976.0,1501.3 1976.8,1500.5 1977.5,1493.3 1978.3,1503.5 1979.0,1512.6 1979.8,1506.9 1980.5,1492.2 1981.3,1490.1 1982.0,1490.5 1982.8,1492.0 1983.5,1503.6 1984.3,1489.8 1985.0,1486.2 1985.7,1499.5 1986.5,1487.5 1987.2,1496.9 1988.0,1492.7 1988.7,1491.3 1989.5,1504.6 1990.2,1483.0 1991.0,1499.7 1991.7,1494.0 1992.5,1496.6 1993.2,1489.5 1994.0,1489.5 1994.7,1492.2 1995.5,1481.8 1996.2,1489.8 1997.0,1494.6 1997.7,1512.6 1998.5,1493.0 1999.2,1492.6 1999.9,1496.3 2000.7,1495.6 2001.4,1484.0 2002.2,1479.8 2002.9,1472.4 2003.7,1477.1 2004.4,1490.3 2005.2,1481.8 2005.9,1493.2 2006.7,1475.6 2007.4,1477.0 2008.2,1482.8 2008.9,1476.5 2009.7,1475.1 2010.4,1475.5 2011.2,1455.8 2011.9,1436.8 2012.7,1452.5 2013.4,1446.3 2014.2,1449.2 2014.9,1447.3 2015.6,1415.2 2016.4,1431.9 2017.1,1414.3 2017.9,1408.6 2018.6,1389.3 2019.4,1385.2 2020.1,1368.3 2020.9,1379.1 2021.6,1358.2 2022.4,1335.0 2023.1,1350.0 2023.9,1340.2 2024.6,1318.2 2025.4,1326.5 2026.1,1320.9 2026.9,1351.4 2027.6,1330.8 2028.4,1345.1 2029.1,1347.8 2029.8,1336.9 2030.6,1339.6 2031.3,1376.2 2032.1,1377.7 2032.8,1375.3 2033.6,1373.0 2034.3,1388.6 2035.1,1354.6 2035.8,1379.7 2036.6,1399.0 2037.3,1410.0 2038.1,1388.6 2038.8,1396.7 2039.6,1429.5 2040.3,1425.2 2041.1,1420.1 2041.8,1448.0 2042.6,1446.4 2043.3,1432.5 2044.0,1456.0 2044.8,1457.9 2045.5,1470.1 2046.3,1468.6 2047.0,1459.5 2047.8,1475.3 2048.5,1481.5 2049.3,1477.6 2050.0,1459.7 2050.8,1474.5 2051.5,1482.1 2052.3,1477.8 2053.0,1476.8 2053.8,1480.4 2054.5,1496.3 2055.3,1480.3 2056.0,1484.5 2056.8,1476.1 2057.5,1493.0 2058.2,1473.6 2059.0,1485.0 2059.7,1493.8 2060.5,1468.4 2061.2,1482.0 2062.0,1473.5 2062.7,1476.4 2063.5,1464.4 2064.2,1462.6 2065.0,1460.7 2065.7,1462.2 2066.5,1480.3 2067.2,1479.2 2068.0,1461.0 2068.7,1469.0 2069.5,1454.2 2070.2,1454.2 2071.0,1465.6 2071.7,1458.7 2072.4,1455.7 2073.2,1448.8 2073.9,1436.8 2074.7,1418.2 2075.4,1395.4 2076.2,1401.9 2076.9,1378.0 2077.7,1339.4 2078.4,1332.1 2079.2,1324.9 2079.9,1333.1 2080.7,1306.1 2081.4,1278.5 2082.2,1259.1 2082.9,1221.8 2083.7,1218.3 2084.4,1207.4 2085.2,1213.8 2085.9,1215.7 2086.6,1217.6 2087.4,1222.6 2088.1,1226.3 2088.9,1233.4 2089.6,1248.9 2090.4,1256.7 2091.1,1278.6 2091.9,1270.7 2092.6,1272.6 2093.4,1265.3 2094.1,1282.1 2094.9,1287.6 2095.6,1312.5 2096.4,1319.6 2097.1,1334.7 2097.9,1356.5 2098.6,1365.8 2099.4,1372.1 2100.1,1375.7 2100.8,1405.4 2101.6,1394.1 2102.3,1418.2 2103.1,1405.3 2103.8,1418.5 2104.6,1443.8 2105.3,1452.5 2106.1,1430.3 2106.8,1453.0 2107.6,1458.9 2108.3,1472.1 2109.1,1473.5 2109.8,1469.0 2110.6,1473.0 2111.3,1486.9 2112.1,1472.7 2112.8,1482.3 2113.6,1494.0 2114.3,1481.1 2115.0,1491.8 2115.8,1486.4 2116.5,1497.9 2117.3,1492.6 2118.0,1508.3 2118.8,1495.1 2119.5,1509.6 2120.3,1498.5 2121.0,1518.1 2121.8,1501.3 2122.5,1496.1 2123.3,1497.9 2124.0,1492.9 2124.8,1508.7 2125.5,1490.3 2126.3,1490.0 2127.0,1509.6 2127.8,1506.8 2128.5,1505.2 2129.3,1501.4 2130.0,1500.0 2130.7,1518.5 2131.5,1497.1 2132.2,1503.0 2133.0,1508.4 2133.7,1494.6 2134.5,1503.7 2135.2,1493.3 2136.0,1497.5 2136.7,1503.5 2137.5,1493.1 2138.2,1495.6 2139.0,1504.8 2139.7,1512.5 2140.5,1505.1 2141.2,1497.0 2142.0,1502.9 2142.7,1489.0 2143.5,1499.4 2144.2,1499.9 2144.9,1498.5 2145.7,1507.4 2146.4,1502.1 2147.2,1505.9 2147.9,1517.6 2148.7,1513.7 2149.4,1496.1 2150.2,1504.4 2150.9,1502.1 2151.7,1511.6 2152.4,1505.4 2153.2,1495.8 2153.9,1500.6 2154.7,1504.9 2155.4,1490.6 2156.2,1501.7 2156.9,1503.7 2157.7,1493.3 2158.4,1513.3 2159.1,1497.4 2159.9,1509.0 2160.6,1506.8 2161.4,1506.0 2162.1,1500.4 2162.9,1500.5 2163.6,1499.2 2164.4,1499.8 2165.1,1491.6 2165.9,1489.6 2166.6,1496.4 2167.4,1496.2 2168.1,1504.1 2168.9,1509.1 2169.6,1497.5 2170.4,1501.4 2171.1,1495.7 2171.9,1514.4 2172.6,1483.3 2173.3,1510.7 2174.1,1501.7 2174.8,1495.2 2175.6,1511.7 2176.3,1506.0 2177.1,1516.3 2177.8,1512.3 2178.6,1515.9 2179.3,1501.9 2180.1,1500.7 2180.8,1505.0 2181.6,1494.2 2182.3,1493.5 2183.1,1503.2 2183.8,1504.7 2184.6,1505.2 2185.3,1506.6 2186.1,1494.6 2186.8,1502.1"/>
</g>
<rect x="458.0" y="1426.0" width="128" height="73" fill="#fff"/>
<rect x="616.4" y="1360.1" width="128" height="73" fill="#fff"/>
<rect x="686.0" y="1143.6" width="128" height="73" fill="#fff"/>
<rect x="856.9" y="1431.4" width="128" height="73" fill="#fff"/>
<rect x="1387.0" y="1361.7" width="128" height="73" fill="#fff"/>
<rect x="1542.7" y="1452.7" width="128" height="73" fill="#fff"/>
<rect x="1838.0" y="1362.6" width="128" height="73" fill="#fff"/>
<rect x="2012.6" y="1434.8" width="128" height="73" fill="#fff"/>
<line x1="609.5" y1="497.1" x2="609.5" y2="1556" stroke="#a4a4a4" stroke-width="7.4" stroke-dasharray="1.15 13.52"/>
<line x1="822.5999999999999" y1="497.1" x2="822.5999999999999" y2="1556" stroke="#a4a4a4" stroke-width="7.4" stroke-dasharray="1.15 13.52"/>
<line x1="1525.3" y1="495.1" x2="1525.3" y2="1556" stroke="#a4a4a4" stroke-width="7.4" stroke-dasharray="1.15 13.52"/>
<line x1="1985.8" y1="497.1" x2="1985.8" y2="1556" stroke="#a4a4a4" stroke-width="7.4" stroke-dasharray="1.15 13.52"/>
<text class="nm" transform="translate(466.2 1481.0) scale(1 1.0)">104.3</text>
<text class="nm" transform="translate(622.4 1415.3) scale(1 1.0)">208.2</text>
<text class="nm" transform="translate(692.2 1197.2) scale(1 1.0)">605.4</text>
<text class="nm" transform="translate(861.9 1486.8) scale(1 1.0)">204.3</text>
<text class="nm" transform="translate(1394.0 1415.3) scale(1 1.0)">239.3</text>
<text class="nm" transform="translate(1552.2 1506.3) scale(1 1.0)">127.8</text>
<text class="nm" transform="translate(1845.3 1415.3) scale(1 1.0)">274.2</text>
<text class="nm" transform="translate(2021.5 1488.4) scale(1 1.0)">145.7</text>
<text class="wc" x="325.7" y="781.6">WC-Co</text>
<text class="wc" x="543.6" y="226.4">WC-Co</text>
<text class="wc" x="1025.9" y="253.4">WC-Co</text>
<text class="wc" x="1609.4" y="910.6">WC-Co</text>
<text class="wc" x="1619.6" y="1241">WC-Co</text>
<text class="wc" x="1732.7" y="750.8">WC-Co</text>
<text class="wc" x="2000.0" y="683.6">WC-Co</text>
<text class="pr" transform="translate(510.2 471.3) scale(1.19 1)">（</text>
<text class="hk" transform="translate(573.3 473.8) scale(1 1.035)">111</text>
<text class="pr" transform="translate(662.0 471.3) scale(1.19 1)">）</text>
<text class="pr" transform="translate(714.6 471.3) scale(1.19 1)">（</text>
<text class="hk" transform="translate(774.6 473.8) scale(1 1.035)">200</text>
<text class="pr" transform="translate(865.7 471.3) scale(1.19 1)">）</text>
<text class="pr" transform="translate(1419.1 471.3) scale(1.19 1)">（</text>
<text class="hk" transform="translate(1479.8 473.8) scale(1 1.035)">220</text>
<text class="pr" transform="translate(1570.7 471.3) scale(1.19 1)">）</text>
<text class="pr" transform="translate(1881.3 471.3) scale(1.19 1)">（</text>
<text class="hk" transform="translate(1942.4 473.8) scale(1 1.035)">311</text>
<text class="pr" transform="translate(2032.1 471.3) scale(1.19 1)">）</text>
<g stroke="#000" stroke-width="5.5" fill="none" stroke-linecap="butt">
<path d="M318.3 41.2V1571.0M315.6 1568.3H2189.6M2186.8 1571.0V41.2M2189.6 44.0H315.6"/>
<path d="M318.3 1568.3v-29M411.7 1568.3v-14.5M505.2 1568.3v-29M598.6 1568.3v-14.5M692.0 1568.3v-29M785.4 1568.3v-14.5M878.9 1568.3v-29M972.3 1568.3v-14.5M1065.7 1568.3v-29M1159.1 1568.3v-14.5M1252.6 1568.3v-29M1346.0 1568.3v-14.5M1439.4 1568.3v-29M1532.8 1568.3v-14.5M1626.2 1568.3v-29M1719.7 1568.3v-14.5M1813.1 1568.3v-29M1906.5 1568.3v-14.5M2000.0 1568.3v-29M2093.4 1568.3v-14.5M2186.8 1568.3v-29M318.3 1568.3h29M318.3 1415.9h14.5M318.3 1263.4h29M318.3 1111.0h14.5M318.3 958.6h29M318.3 806.1h14.5M318.3 653.7h29M318.3 501.3h14.5M318.3 348.9h29M318.3 196.4h14.5M318.3 44.0h29"/>
</g>
<text class="tk" transform="translate(318.3 1651.2) scale(1 1.035)" text-anchor="middle">30</text>
<text class="tk" transform="translate(505.2 1651.2) scale(1 1.035)" text-anchor="middle">35</text>
<text class="tk" transform="translate(692.0 1651.2) scale(1 1.035)" text-anchor="middle">40</text>
<text class="tk" transform="translate(878.9 1651.2) scale(1 1.035)" text-anchor="middle">45</text>
<text class="tk" transform="translate(1065.7 1651.2) scale(1 1.035)" text-anchor="middle">50</text>
<text class="tk" transform="translate(1252.6 1651.2) scale(1 1.035)" text-anchor="middle">55</text>
<text class="tk" transform="translate(1439.4 1651.2) scale(1 1.035)" text-anchor="middle">60</text>
<text class="tk" transform="translate(1626.2 1651.2) scale(1 1.035)" text-anchor="middle">65</text>
<text class="tk" transform="translate(1813.1 1651.2) scale(1 1.035)" text-anchor="middle">70</text>
<text class="tk" transform="translate(2000.0 1651.2) scale(1 1.035)" text-anchor="middle">75</text>
<text class="tk" transform="translate(2186.8 1651.2) scale(1 1.035)" text-anchor="middle">80</text>
<text class="tk" transform="translate(287.2 1587.0) scale(1 1.035)" text-anchor="end">0</text>
<text class="tk" transform="translate(287.2 1282.1) scale(1 1.035)" text-anchor="end">500</text>
<text class="tk" transform="translate(287.2 977.3) scale(1 1.035)" text-anchor="end">1000</text>
<text class="tk" transform="translate(287.2 672.4) scale(1 1.035)" text-anchor="end">1500</text>
<text class="tk" transform="translate(287.2 367.6) scale(1 1.035)" text-anchor="end">2000</text>
<text class="tk" transform="translate(287.2 62.7) scale(1 1.035)" text-anchor="end">2500</text>
<text class="tx" x="973.5" y="1758.8">2θ values</text>
<text class="pt" transform="translate(1288.9 1754.4) scale(1.13 1)">（</text>
<text class="ty" x="1369.5" y="1758.8">°</text>
<text class="pt" transform="translate(1406.9 1754.4) scale(1.13 1)">）</text>
<text class="ty" transform="translate(75.5 1033) rotate(-90)">Intensity (cts/sec)</text>
<line x1="1650.5" y1="164.7" x2="1824.9" y2="164.7" stroke="#0000ff" stroke-width="4.7"/>
<line x1="1650.5" y1="262.4" x2="1824.9" y2="262.4" stroke="#ff0000" stroke-width="4.7"/>
<text class="lg" x="1846.3" y="192" textLength="266">KC5010</text>
<text class="lg" x="1844.5" y="289.7" textLength="266">KC5025</text>
</svg></body></html>
